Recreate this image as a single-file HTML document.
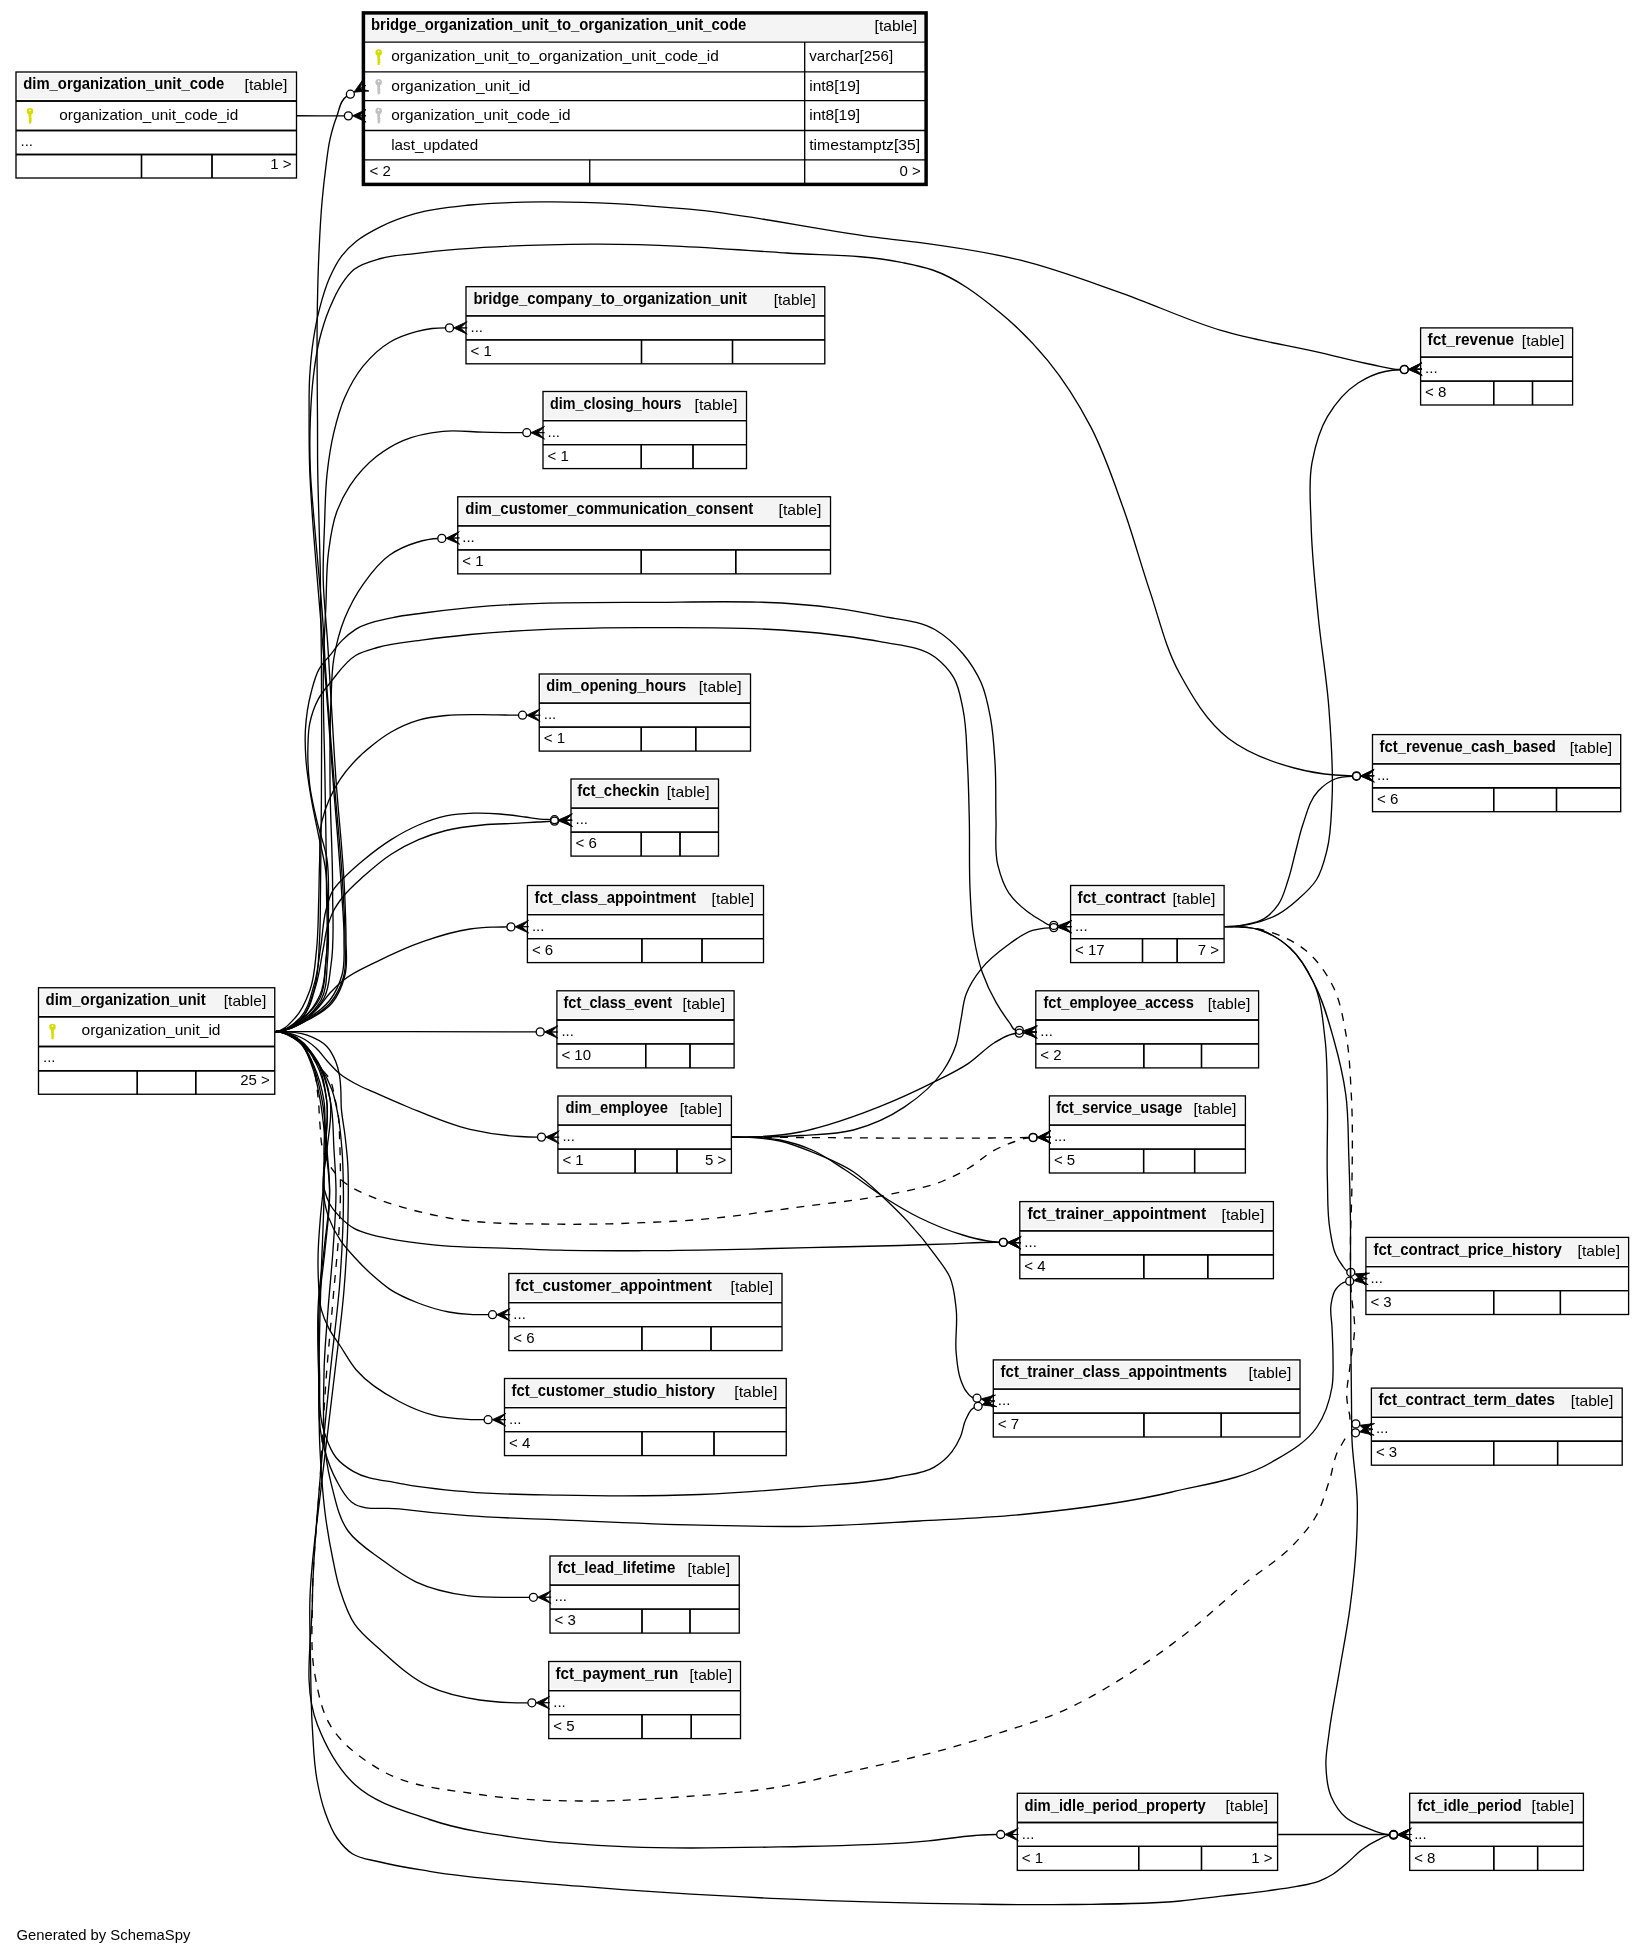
<!DOCTYPE html><html><head><meta charset="utf-8"><style>html,body{margin:0;padding:0;background:#fff;}svg{display:block;will-change:transform;}</style></head><body><svg xmlns="http://www.w3.org/2000/svg" width="1644" height="1955" viewBox="0 0 1644 1955" font-family='"Liberation Sans", sans-serif'>
<rect width="1644" height="1955" fill="#fff"/>
<path d="M297.00,115.75 C312.78,115.79 328.57,115.91 344.35,115.86" fill="none" stroke="#000" stroke-width="1.33"/>
<path d="M275.25,1031.60 C284.36,1031.60 293.34,1026.22 300.00,1020.00 C308.06,1012.46 310.66,1000.52 314.00,990.00 C319.07,974.02 318.42,956.73 319.50,940.00 C320.58,923.36 320.23,906.67 320.50,890.00 C320.99,860.00 321.22,830.00 321.40,800.00 C321.68,753.33 321.76,706.67 321.40,660.00 C321.16,629.00 320.88,598.00 320.20,567.00 C319.84,550.66 319.32,534.33 318.90,518.00 C318.48,501.67 317.93,485.34 317.70,469.00 C317.47,452.67 317.59,436.33 317.50,420.00 C317.40,401.33 317.15,382.67 317.10,364.00 C317.06,351.67 317.00,339.33 317.10,327.00 C317.20,314.67 317.40,302.33 317.70,290.00 C318.00,277.86 318.36,265.73 318.90,253.60 C319.70,235.72 320.56,217.83 322.20,200.00 C323.20,189.11 324.37,178.24 325.80,167.40 C327.06,157.84 327.92,148.19 330.10,138.80 C331.79,131.52 333.79,124.27 336.50,117.30 C339.34,109.99 340.03,100.02 346.87,96.16" fill="none" stroke="#000" stroke-width="1.33"/>
<path d="M275.25,1031.60 C285.89,1031.60 295.78,1025.32 305.00,1020.00 C314.24,1014.67 323.50,1008.46 330.00,1000.00 C335.63,992.67 339.49,983.90 342.00,975.00 C345.18,963.75 343.85,951.68 344.00,940.00 C344.22,923.31 342.47,906.66 341.50,890.00 C339.35,853.29 335.79,816.67 333.00,780.00 C329.95,740.00 327.17,699.99 324.00,660.00 C321.54,628.99 318.76,598.01 316.30,567.00 C315.00,550.67 313.60,534.35 312.50,518.00 C311.40,501.68 310.27,485.35 309.70,469.00 C309.13,452.68 309.08,436.33 309.10,420.00 C309.12,405.43 308.82,390.84 309.70,376.30 C310.45,363.99 311.53,351.69 313.40,339.50 C314.98,329.19 316.88,318.90 319.50,308.80 C322.19,298.42 325.03,287.99 329.40,278.20 C332.83,270.52 336.46,262.77 341.60,256.10 C345.84,250.59 350.91,245.69 356.30,241.30 C363.71,235.27 372.34,230.85 380.90,226.60 C391.79,221.20 403.32,217.07 415.00,213.70 C432.83,208.56 451.55,206.99 470.00,205.00 C494.31,202.38 518.85,202.18 543.30,201.90 C592.02,201.34 640.78,204.72 689.30,209.20 C754.61,215.24 818.80,230.37 883.90,238.40 C895.99,239.89 908.12,241.09 920.20,242.70 C953.84,247.18 987.55,252.06 1020.50,260.20 C1054.63,268.63 1087.62,281.19 1120.80,292.80 C1154.47,304.58 1186.80,320.25 1221.00,330.40 C1253.85,340.15 1287.90,345.25 1321.30,352.90 C1338.01,356.73 1354.57,361.24 1371.40,364.50 C1381.00,366.36 1390.53,369.65 1400.30,369.47" fill="none" stroke="#000" stroke-width="1.33"/>
<path d="M275.25,1031.60 C285.78,1031.60 295.69,1025.91 305.00,1021.00 C314.49,1015.99 324.21,1010.32 331.00,1002.00 C336.89,994.78 340.91,985.95 343.50,977.00 C346.94,965.14 344.92,952.34 345.00,940.00 C345.10,923.32 343.88,906.66 343.00,890.00 C341.05,853.26 336.88,816.68 334.00,780.00 C330.86,740.01 327.47,700.04 325.00,660.00 C324.10,645.34 323.55,630.65 322.50,616.00 C321.33,599.65 319.63,583.33 318.20,567.00 C316.77,550.67 315.22,534.34 313.90,518.00 C312.58,501.68 310.90,485.37 310.30,469.00 C309.70,452.68 309.69,436.32 310.30,420.00 C310.85,405.41 311.63,390.80 313.40,376.30 C314.90,363.96 316.50,351.57 319.50,339.50 C322.09,329.06 325.28,318.73 329.40,308.80 C332.90,300.37 336.45,291.83 341.60,284.30 C345.21,279.03 348.94,273.63 353.90,269.60 C361.45,263.46 371.54,261.16 380.90,258.50 C391.95,255.36 403.61,255.07 415.00,253.60 C473.60,246.05 532.92,244.57 592.00,244.20 C656.93,243.79 721.81,248.64 786.60,253.00 C824.44,255.55 862.85,254.50 900.00,262.10 C910.95,264.34 922.04,266.33 932.60,270.00 C957.13,278.52 978.40,295.08 998.60,311.40 C1016.66,325.99 1033.08,342.74 1047.80,360.70 C1064.35,380.90 1078.33,403.29 1090.50,426.40 C1104.24,452.49 1113.43,480.76 1123.40,508.50 C1133.12,535.54 1140.46,563.39 1149.70,590.60 C1159.06,618.17 1165.27,647.24 1179.20,672.80 C1192.30,696.84 1206.83,721.76 1228.50,738.50 C1247.50,753.17 1271.01,761.79 1294.20,768.00 C1307.53,771.57 1321.25,773.86 1335.00,775.00 C1340.82,775.48 1346.66,775.80 1352.50,775.80" fill="none" stroke="#000" stroke-width="1.33"/>
<path d="M275.25,1031.60 C286.09,1031.60 296.34,1025.92 306.00,1021.00 C315.39,1016.22 325.24,1011.08 332.00,1003.00 C338.60,995.11 342.51,984.98 345.00,975.00 C347.83,963.68 345.95,951.67 346.00,940.00 C346.07,923.33 345.24,906.66 344.50,890.00 C342.86,853.26 338.57,816.69 336.00,780.00 C332.75,733.66 330.60,687.25 327.50,640.90 C326.12,620.26 323.59,599.68 323.20,579.00 C322.86,561.23 323.83,543.46 324.50,525.70 C325.17,507.99 325.17,490.21 327.20,472.60 C328.75,459.21 330.65,445.81 333.80,432.70 C336.62,420.96 339.66,409.16 344.50,398.10 C349.44,386.83 355.32,375.73 363.10,366.20 C370.65,356.95 379.44,348.31 389.70,342.20 C397.90,337.32 407.08,334.06 416.30,331.60 C421.45,330.22 426.70,329.10 432.00,328.50 C436.48,327.99 441.00,327.90 445.50,327.90" fill="none" stroke="#000" stroke-width="1.33"/>
<path d="M275.25,1031.60 C285.11,1031.60 294.35,1025.21 302.00,1019.00 C309.76,1012.70 315.86,1004.10 320.00,995.00 C324.90,984.23 324.64,971.76 326.00,960.00 C328.68,936.82 326.52,913.33 326.50,890.00 C326.47,853.33 325.48,816.67 325.00,780.00 C324.48,740.00 322.45,699.99 323.50,660.00 C323.98,641.82 325.06,623.66 325.90,605.50 C326.72,587.76 326.13,569.90 328.50,552.30 C330.30,538.89 331.84,525.20 336.50,512.50 C339.91,503.19 344.36,494.19 349.80,485.90 C357.04,474.87 366.06,464.79 376.40,456.60 C384.51,450.18 393.50,444.70 403.00,440.60 C415.54,435.19 429.32,432.70 442.90,431.30 C456.13,429.93 469.50,431.81 482.80,432.10 C490.20,432.26 497.60,432.50 505.00,432.60 C510.93,432.68 516.87,432.70 522.80,432.70" fill="none" stroke="#000" stroke-width="1.33"/>
<path d="M275.25,1031.60 C285.28,1031.60 294.73,1025.67 303.00,1020.00 C311.36,1014.27 319.14,1006.90 324.00,998.00 C329.39,988.13 329.31,976.12 331.00,965.00 C334.76,940.28 332.52,915.01 332.60,890.00 C332.71,853.32 330.10,816.68 330.00,780.00 C329.93,753.33 329.70,726.64 331.00,700.00 C331.67,686.22 331.53,672.31 333.80,658.70 C336.06,645.12 339.38,631.58 344.50,618.80 C349.36,606.67 355.56,594.97 363.10,584.30 C370.71,573.53 378.87,562.52 389.70,555.00 C397.75,549.41 406.92,545.33 416.30,542.50 C423.28,540.40 430.51,538.71 437.80,538.51" fill="none" stroke="#000" stroke-width="1.33"/>
<path d="M275.25,1031.60 C285.28,1031.60 294.90,1025.90 303.00,1020.00 C310.25,1014.72 316.65,1007.84 321.00,1000.00 C327.55,988.19 326.20,973.45 327.50,960.00 C329.42,940.09 328.33,919.98 327.50,900.00 C327.10,890.29 326.87,880.55 325.70,870.90 C324.18,858.45 320.75,846.30 318.30,834.00 C315.85,821.74 313.06,809.54 311.00,797.20 C308.96,784.99 306.89,772.75 306.00,760.40 C305.27,750.22 304.82,739.99 305.40,729.80 C306.11,717.41 307.83,705.00 311.00,693.00 C313.21,684.61 315.12,675.89 319.50,668.40 C322.80,662.75 327.70,658.20 331.80,653.10 C335.07,649.03 337.96,644.64 341.60,640.90 C345.93,636.45 350.75,632.41 356.00,629.10 C366.87,622.25 380.25,620.37 392.80,617.60 C402.90,615.37 413.25,614.40 423.50,613.00 C438.96,610.89 454.47,609.12 470.00,607.60 C526.62,602.07 583.71,602.53 640.60,602.40 C705.53,602.25 771.04,598.88 835.30,608.20 C850.26,610.37 865.19,612.84 880.00,615.90 C898.57,619.73 918.85,620.09 935.20,629.70 C945.73,635.89 954.99,644.39 962.90,653.70 C970.38,662.51 976.68,672.50 981.30,683.10 C986.12,694.16 988.25,706.25 990.50,718.10 C993.39,733.27 994.15,748.79 995.10,764.20 C996.23,782.57 995.45,801.01 996.00,819.40 C996.46,834.74 994.16,850.52 997.90,865.40 C1000.32,875.04 1003.33,884.88 1008.90,893.10 C1013.77,900.28 1020.44,906.19 1027.30,911.50 C1031.91,915.07 1036.92,918.13 1042.00,921.00 C1044.56,922.44 1046.88,924.88 1049.81,925.10" fill="none" stroke="#000" stroke-width="1.33"/>
<path d="M275.25,1031.60 C285.11,1031.60 294.20,1025.03 302.00,1019.00 C309.29,1013.36 315.75,1006.18 320.00,998.00 C325.91,986.62 324.57,972.74 326.00,960.00 C328.23,940.11 328.62,920.02 328.50,900.00 C328.42,886.19 329.02,872.25 326.90,858.60 C324.95,846.06 319.98,834.16 317.10,821.80 C314.26,809.61 311.23,797.42 309.70,785.00 C308.19,772.81 307.60,760.48 307.90,748.20 C308.10,739.98 308.05,731.65 309.70,723.60 C311.44,715.12 314.19,706.72 318.30,699.10 C321.91,692.41 327.00,686.60 331.80,680.70 C339.19,671.61 345.88,661.10 356.00,655.20 C362.55,651.38 370.13,649.64 377.40,647.50 C392.34,643.11 408.08,642.07 423.50,639.90 C438.95,637.73 454.47,636.05 470.00,634.50 C526.63,628.86 583.69,627.91 640.60,627.70 C705.55,627.46 770.88,626.72 835.30,635.00 C850.24,636.92 865.25,638.64 880.00,641.70 C898.72,645.58 920.02,645.67 935.20,657.30 C942.47,662.87 949.05,669.71 953.70,677.60 C959.22,686.97 960.62,698.27 962.90,708.90 C966.77,726.99 966.43,745.73 967.50,764.20 C968.56,782.58 968.86,801.00 969.30,819.40 C969.89,843.96 968.86,868.57 970.20,893.10 C970.96,907.09 971.29,921.17 973.50,935.00 C975.54,947.75 978.09,960.53 982.40,972.70 C986.06,983.05 990.74,993.08 996.20,1002.60 C1000.33,1009.79 1004.95,1016.73 1010.00,1023.30 C1011.72,1025.54 1012.51,1029.62 1015.32,1029.90" fill="none" stroke="#000" stroke-width="1.33"/>
<path d="M275.25,1031.60 C283.24,1031.60 289.47,1023.77 295.00,1018.00 C302.32,1010.35 306.40,999.96 310.00,990.00 C314.59,977.30 315.03,963.43 316.50,950.00 C318.31,933.42 318.16,916.67 318.70,900.00 C319.11,887.40 319.10,874.79 319.60,862.20 C320.14,848.59 318.85,834.67 321.90,821.40 C323.63,813.90 326.13,806.56 329.20,799.50 C332.24,792.51 335.89,785.75 340.10,779.40 C344.40,772.92 349.37,766.87 354.70,761.20 C360.32,755.21 366.55,749.79 373.00,744.70 C378.81,740.12 384.80,735.70 391.20,732.00 C399.82,727.02 409.04,722.89 418.60,720.10 C427.49,717.51 436.79,716.47 446.00,715.50 C458.10,714.22 470.33,714.58 482.50,714.60 C490.00,714.61 497.50,714.88 505.00,715.00 C509.50,715.07 514.00,715.20 518.50,715.20" fill="none" stroke="#000" stroke-width="1.33"/>
<path d="M275.25,1031.60 C284.66,1031.60 293.41,1024.72 300.00,1018.00 C308.37,1009.47 310.53,996.43 314.00,985.00 C317.93,972.05 318.89,958.37 321.00,945.00 C322.84,933.36 322.89,921.37 326.00,910.00 C327.80,903.42 329.33,896.57 332.80,890.70 C336.10,885.13 341.08,880.73 345.60,876.10 C351.32,870.24 357.58,864.92 363.90,859.70 C372.61,852.50 381.62,845.59 391.20,839.60 C399.97,834.11 409.08,829.05 418.60,825.00 C427.46,821.23 436.58,817.88 446.00,815.90 C454.98,814.02 464.23,813.50 473.40,813.20 C482.27,812.91 491.15,813.33 500.00,814.00 C508.37,814.64 516.68,815.86 525.00,817.00 C530.01,817.68 534.96,818.79 540.00,819.20 C543.49,819.48 547.00,819.48 550.50,819.58" fill="none" stroke="#000" stroke-width="1.33"/>
<path d="M275.25,1031.60 C284.81,1031.60 294.06,1025.57 301.00,1019.00 C309.99,1010.48 312.29,996.82 316.00,985.00 C319.56,973.65 320.67,961.67 323.00,950.00 C324.67,941.67 325.41,933.09 328.00,925.00 C329.64,919.87 331.46,914.75 334.00,910.00 C336.26,905.76 339.09,901.83 342.00,898.00 C348.25,889.79 356.24,883.02 363.90,876.10 C372.56,868.28 381.42,860.57 391.20,854.20 C399.87,848.55 409.08,843.65 418.60,839.60 C427.46,835.83 436.66,832.84 446.00,830.50 C457.93,827.51 470.26,826.22 482.50,825.00 C494.62,823.79 506.84,823.91 519.00,823.20 C525.34,822.83 531.66,822.33 538.00,822.00 C542.17,821.78 546.34,821.68 550.51,821.43" fill="none" stroke="#000" stroke-width="1.33"/>
<path d="M275.25,1031.60 C283.88,1031.60 292.51,1028.29 300.00,1024.00 C306.97,1020.01 312.53,1013.87 318.00,1008.00 C322.36,1003.31 325.66,997.71 330.00,993.00 C334.35,988.28 338.98,983.79 344.00,979.80 C353.95,971.89 366.03,967.08 377.40,961.40 C392.39,953.92 407.67,946.88 423.50,941.40 C438.66,936.15 454.11,931.20 470.00,929.00 C477.29,927.99 484.65,927.52 492.00,927.20 C496.96,926.99 501.93,927.01 506.90,926.95" fill="none" stroke="#000" stroke-width="1.33"/>
<path d="M275.25,1031.60 C362.23,1031.69 449.22,1031.37 536.20,1031.88" fill="none" stroke="#000" stroke-width="1.33"/>
<path d="M275.25,1031.60 C283.69,1031.60 292.34,1033.45 300.00,1037.00 C305.87,1039.72 311.20,1043.66 316.00,1048.00 C320.56,1052.12 323.82,1057.50 328.00,1062.00 C331.85,1066.14 335.59,1070.45 340.00,1074.00 C344.61,1077.71 349.82,1080.64 355.00,1083.50 C361.42,1087.05 368.31,1089.69 375.00,1092.70 C385.93,1097.62 396.90,1102.48 408.00,1107.00 C428.35,1115.29 448.61,1124.39 470.00,1129.40 C486.39,1133.24 503.20,1135.48 520.00,1136.50 C525.83,1136.85 531.66,1137.04 537.50,1137.08" fill="none" stroke="#000" stroke-width="1.33"/>
<path d="M275.25,1031.60 C283.96,1031.60 293.47,1034.23 300.00,1040.00 C305.70,1045.04 308.13,1052.96 311.00,1060.00 C316.12,1072.55 316.80,1086.53 318.30,1100.00 C319.22,1108.30 319.22,1116.68 320.00,1125.00 C320.78,1133.36 320.58,1141.96 323.00,1150.00 C324.68,1155.57 326.96,1161.04 330.00,1166.00 C333.09,1171.05 337.01,1175.62 341.30,1179.70 C350.57,1188.53 363.20,1193.15 375.00,1198.10 C384.00,1201.88 393.43,1204.56 402.80,1207.30 C417.91,1211.72 433.30,1215.23 448.80,1218.00 C485.34,1224.54 522.88,1223.71 560.00,1224.20 C587.57,1224.57 615.15,1223.81 642.70,1222.70 C661.81,1221.93 680.93,1221.04 700.00,1219.50 C734.26,1216.73 768.24,1211.18 802.30,1206.60 C832.16,1202.58 862.32,1200.12 891.80,1193.90 C909.02,1190.27 926.70,1187.64 943.00,1181.00 C951.79,1177.42 960.32,1173.12 968.50,1168.30 C977.47,1163.01 984.91,1155.30 994.10,1150.40 C1000.78,1146.84 1007.81,1143.86 1015.00,1141.50 C1019.62,1139.98 1024.24,1137.86 1029.10,1137.72" fill="none" stroke="#000" stroke-width="1.33" stroke-dasharray="8,8"/>
<path d="M275.25,1031.60 C283.96,1031.60 292.88,1034.98 300.00,1040.00 C306.98,1044.92 311.78,1052.58 316.00,1060.00 C322.81,1071.99 324.79,1086.33 326.60,1100.00 C328.79,1116.53 325.89,1133.33 325.50,1150.00 C325.18,1163.33 321.16,1177.09 324.50,1190.00 C325.73,1194.75 327.25,1199.49 329.60,1203.80 C332.41,1208.97 336.44,1213.44 340.60,1217.60 C344.79,1221.80 349.33,1225.79 354.50,1228.70 C360.16,1231.88 366.64,1233.36 372.90,1235.10 C378.52,1236.66 384.27,1237.69 390.00,1238.80 C404.34,1241.58 418.88,1243.25 433.40,1244.80 C462.13,1247.87 491.13,1247.55 520.00,1248.70 C533.33,1249.23 546.66,1249.84 560.00,1250.20 C587.56,1250.95 615.13,1250.80 642.70,1250.70 C670.30,1250.60 697.90,1250.12 725.50,1249.60 C753.07,1249.08 780.63,1248.25 808.20,1247.60 C838.80,1246.88 869.41,1246.42 900.00,1245.50 C916.67,1245.00 933.33,1244.34 950.00,1243.80 C966.43,1243.27 982.86,1241.92 999.30,1242.31" fill="none" stroke="#000" stroke-width="1.33"/>
<path d="M275.25,1031.60 C284.07,1031.60 292.75,1035.97 300.00,1041.00 C307.57,1046.26 313.21,1054.12 318.00,1062.00 C324.91,1073.37 328.28,1086.84 330.20,1100.00 C332.61,1116.53 328.37,1133.36 327.00,1150.00 C325.90,1163.35 322.06,1176.64 323.10,1190.00 C323.83,1199.36 325.53,1208.76 328.70,1217.60 C331.62,1225.72 335.75,1233.46 340.60,1240.60 C344.66,1246.57 349.65,1251.86 354.50,1257.20 C360.33,1263.62 366.42,1269.83 372.90,1275.60 C378.37,1280.47 383.89,1285.36 390.00,1289.40 C398.68,1295.14 408.39,1299.25 418.10,1303.00 C428.05,1306.85 438.31,1310.07 448.80,1312.00 C455.79,1313.28 462.90,1313.97 470.00,1314.40 C476.16,1314.78 482.33,1314.70 488.50,1314.70" fill="none" stroke="#000" stroke-width="1.33"/>
<path d="M275.25,1031.60 C284.07,1031.60 292.97,1035.67 300.00,1041.00 C307.23,1046.48 311.78,1054.97 316.00,1063.00 C321.97,1074.35 324.76,1087.30 326.60,1100.00 C328.99,1116.50 325.68,1133.34 325.00,1150.00 C324.46,1163.34 324.13,1176.69 323.10,1190.00 C322.39,1199.22 321.16,1208.39 320.40,1217.60 C319.39,1229.88 318.32,1242.18 318.10,1254.50 C317.93,1263.67 317.97,1272.85 318.50,1282.00 C319.03,1291.27 318.87,1300.74 321.30,1309.70 C323.03,1316.08 325.69,1322.22 328.70,1328.10 C332.03,1334.60 336.59,1340.39 340.60,1346.50 C345.77,1354.38 350.16,1362.85 356.30,1370.00 C367.86,1383.46 383.50,1393.24 399.20,1401.50 C410.04,1407.21 421.42,1412.19 433.30,1415.20 C444.40,1418.01 455.96,1418.80 467.40,1419.40 C472.96,1419.69 478.53,1419.70 484.10,1419.70" fill="none" stroke="#000" stroke-width="1.33"/>
<path d="M275.25,1031.60 C283.76,1031.60 292.58,1035.41 299.00,1041.00 C306.09,1047.16 308.60,1057.24 312.00,1066.00 C316.21,1076.86 317.94,1088.55 320.10,1100.00 C323.21,1116.49 324.29,1133.31 326.00,1150.00 C327.36,1163.32 329.29,1176.62 329.60,1190.00 C330.07,1210.05 326.89,1230.03 325.00,1250.00 C323.42,1266.69 320.57,1283.27 319.50,1300.00 C318.01,1323.29 318.55,1346.69 319.50,1370.00 C320.35,1390.78 317.65,1412.50 324.30,1432.20 C327.30,1441.09 330.20,1450.49 336.20,1457.70 C340.85,1463.30 346.98,1467.62 353.20,1471.40 C366.74,1479.62 383.68,1480.15 399.20,1483.30 C421.65,1487.86 444.58,1489.81 467.40,1491.80 C498.17,1494.48 529.12,1494.58 560.00,1495.20 C606.66,1496.14 653.37,1496.44 700.00,1494.50 C736.56,1492.98 773.07,1490.20 809.50,1486.80 C838.76,1484.07 868.39,1483.27 897.10,1477.00 C909.64,1474.26 923.34,1473.77 934.30,1467.10 C940.92,1463.07 947.02,1457.90 951.80,1451.80 C955.43,1447.17 958.24,1441.89 960.60,1436.50 C963.05,1430.91 963.15,1424.40 966.00,1419.00 C968.20,1414.83 969.83,1409.04 974.30,1407.56" fill="none" stroke="#000" stroke-width="1.33"/>
<path d="M275.25,1031.60 C283.89,1031.60 292.48,1036.32 299.00,1042.00 C305.98,1048.08 309.31,1057.50 313.00,1066.00 C317.67,1076.76 319.75,1088.49 322.00,1100.00 C325.22,1116.44 325.66,1133.30 327.00,1150.00 C328.07,1163.32 329.58,1176.64 329.60,1190.00 C329.64,1210.09 326.05,1230.02 324.00,1250.00 C322.29,1266.68 319.57,1283.27 318.50,1300.00 C317.01,1323.29 317.70,1346.68 318.50,1370.00 C319.41,1396.46 316.90,1423.78 324.30,1449.20 C327.37,1459.74 330.94,1470.27 336.20,1479.90 C340.49,1487.76 344.51,1496.39 351.50,1502.00 C364.02,1512.06 383.26,1506.80 399.20,1508.80 C421.87,1511.64 444.62,1513.94 467.40,1515.70 C498.21,1518.08 529.13,1518.59 560.00,1519.90 C606.66,1521.88 653.31,1524.16 700.00,1525.20 C736.49,1526.01 773.00,1527.00 809.50,1526.30 C846.04,1525.60 882.51,1523.04 919.00,1521.00 C953.35,1519.08 987.76,1517.86 1022.00,1514.50 C1072.32,1509.56 1122.81,1503.69 1172.00,1492.00 C1205.86,1483.95 1241.99,1479.63 1272.00,1462.00 C1288.39,1452.38 1306.37,1442.75 1317.00,1427.00 C1324.97,1415.20 1329.63,1401.04 1332.00,1387.00 C1333.67,1377.13 1333.00,1367.01 1333.00,1357.00 C1333.00,1346.99 1332.40,1337.00 1332.00,1327.00 C1331.70,1319.67 1329.88,1312.26 1331.00,1305.00 C1331.85,1299.48 1332.52,1293.37 1336.00,1289.00 C1338.51,1285.84 1341.76,1282.44 1345.75,1281.82" fill="none" stroke="#000" stroke-width="1.33"/>
<path d="M275.25,1031.60 C283.76,1031.60 291.98,1036.18 299.00,1041.00 C306.99,1046.49 312.98,1054.71 318.00,1063.00 C324.73,1074.11 327.46,1087.31 330.20,1100.00 C333.72,1116.34 332.97,1133.32 334.00,1150.00 C334.82,1163.32 335.87,1176.65 336.00,1190.00 C336.20,1210.02 334.33,1230.02 333.00,1250.00 C331.67,1270.02 329.48,1289.99 328.00,1310.00 C326.52,1329.99 324.52,1349.96 324.10,1370.00 C323.30,1407.83 321.52,1446.70 331.10,1483.30 C335.38,1499.63 338.28,1517.27 348.10,1531.00 C356.78,1543.14 370.20,1551.13 382.20,1560.00 C393.09,1568.05 404.04,1576.35 416.30,1582.10 C432.26,1589.58 449.94,1593.27 467.40,1595.70 C481.48,1597.66 495.79,1597.26 510.00,1597.40 C516.47,1597.46 522.93,1597.36 529.40,1597.32" fill="none" stroke="#000" stroke-width="1.33"/>
<path d="M275.25,1031.60 C284.20,1031.60 293.24,1036.14 300.00,1042.00 C307.00,1048.07 310.23,1057.54 314.00,1066.00 C318.80,1076.77 321.85,1088.37 323.80,1100.00 C326.56,1116.44 323.95,1133.33 324.00,1150.00 C324.04,1163.33 324.22,1176.67 324.10,1190.00 C323.83,1220.02 321.85,1249.99 321.00,1280.00 C320.15,1310.00 319.12,1339.99 319.00,1370.00 C318.90,1396.67 318.63,1423.37 320.00,1450.00 C321.20,1473.39 322.71,1496.81 326.00,1520.00 C327.90,1533.40 330.24,1546.75 333.00,1560.00 C335.06,1569.89 336.85,1579.87 339.90,1589.50 C343.72,1601.56 347.63,1613.98 354.80,1624.40 C361.47,1634.09 371.06,1641.43 379.80,1649.30 C395.23,1663.19 410.77,1677.97 429.60,1686.70 C445.22,1693.94 462.48,1697.42 479.50,1700.00 C489.59,1701.53 499.80,1702.20 510.00,1702.60 C515.96,1702.83 521.93,1702.86 527.90,1702.82" fill="none" stroke="#000" stroke-width="1.33"/>
<path d="M275.25,1031.60 C284.64,1031.60 293.62,1037.20 301.00,1043.00 C308.28,1048.73 312.25,1057.73 318.00,1065.00 C322.03,1070.10 327.31,1074.38 330.20,1080.20 C333.03,1085.90 333.51,1092.49 334.90,1098.70 C336.27,1104.80 337.73,1110.90 338.50,1117.10 C339.25,1123.20 339.23,1129.36 339.50,1135.50 C340.04,1147.66 340.30,1159.83 340.40,1172.00 C340.49,1183.00 340.46,1194.00 340.20,1205.00 C339.44,1236.75 335.63,1268.35 333.00,1300.00 C331.06,1323.34 328.62,1346.65 326.80,1370.00 C323.94,1406.63 322.29,1443.33 320.00,1480.00 C317.50,1520.00 312.55,1559.92 312.40,1600.00 C312.31,1624.95 310.29,1650.28 314.90,1674.80 C318.11,1691.87 321.12,1709.71 329.90,1724.70 C341.21,1744.01 360.62,1758.08 379.80,1769.60 C409.16,1787.24 445.65,1789.26 479.50,1794.50 C512.44,1799.60 545.97,1800.59 579.30,1801.00 C612.56,1801.41 645.82,1799.32 679.00,1797.00 C712.35,1794.66 745.82,1792.51 778.80,1787.00 C802.75,1783.00 826.30,1776.90 850.00,1771.60 C880.46,1764.78 911.08,1758.50 941.20,1750.30 C961.64,1744.74 981.95,1738.63 1002.10,1732.10 C1022.53,1725.48 1043.27,1719.50 1062.90,1710.80 C1084.05,1701.42 1104.04,1689.50 1123.70,1677.30 C1144.72,1664.25 1164.89,1649.79 1184.50,1634.70 C1205.60,1618.46 1224.79,1599.87 1245.40,1583.00 C1261.22,1570.05 1279.41,1559.71 1293.40,1544.80 C1301.89,1535.74 1310.35,1526.34 1316.40,1515.50 C1322.23,1505.06 1325.06,1493.19 1329.00,1481.90 C1333.11,1470.13 1333.52,1456.64 1340.50,1446.30 C1343.64,1441.65 1346.10,1434.81 1351.59,1433.63" fill="none" stroke="#000" stroke-width="1.33" stroke-dasharray="8,8"/>
<path d="M275.25,1031.60 C285.08,1031.60 294.26,1037.95 302.00,1044.00 C309.46,1049.84 314.88,1058.03 320.00,1066.00 C324.84,1073.52 328.96,1081.59 332.00,1090.00 C334.92,1098.06 336.43,1106.57 338.00,1115.00 C340.15,1126.54 341.10,1138.29 342.00,1150.00 C343.02,1163.30 343.23,1176.66 343.40,1190.00 C343.78,1220.02 342.14,1250.06 340.00,1280.00 C337.85,1310.09 333.53,1339.99 330.50,1370.00 C326.80,1406.65 322.94,1443.28 320.00,1480.00 C316.80,1519.95 312.90,1559.92 312.40,1600.00 C311.88,1641.60 302.24,1685.96 317.40,1724.70 C325.97,1746.59 337.57,1768.51 354.80,1784.50 C374.98,1803.22 403.56,1810.58 429.60,1819.50 C461.69,1830.49 495.79,1834.82 529.40,1839.40 C562.42,1843.90 595.81,1845.40 629.10,1846.90 C678.95,1849.15 728.91,1847.90 778.80,1846.90 C828.70,1845.90 878.73,1845.75 928.40,1840.90 C943.96,1839.38 959.40,1836.56 975.00,1835.50 C982.22,1835.01 989.46,1834.50 996.70,1834.50" fill="none" stroke="#000" stroke-width="1.33"/>
<path d="M275.25,1031.60 C285.96,1031.60 297.14,1031.41 307.20,1035.10 C314.19,1037.67 321.44,1040.82 326.60,1046.20 C330.78,1050.56 333.55,1056.20 335.80,1061.80 C337.57,1066.22 338.66,1070.91 339.50,1075.60 C340.32,1080.18 340.50,1084.86 340.80,1089.50 C341.20,1095.62 340.87,1101.78 341.30,1107.90 C341.94,1117.16 343.93,1126.28 345.00,1135.50 C346.06,1144.68 347.11,1153.87 347.70,1163.10 C348.59,1177.04 348.32,1191.03 348.20,1205.00 C347.96,1233.37 346.29,1261.72 344.00,1290.00 C341.83,1316.74 338.15,1343.34 335.10,1370.00 C330.90,1406.69 326.05,1443.30 322.00,1480.00 C317.59,1519.96 310.97,1559.81 309.90,1600.00 C309.37,1619.99 310.14,1640.00 310.50,1660.00 C310.92,1683.00 310.94,1706.04 312.40,1729.00 C313.48,1746.03 313.87,1763.22 317.00,1780.00 C319.01,1790.81 321.28,1801.65 325.00,1812.00 C328.23,1820.98 331.43,1830.25 337.00,1838.00 C341.28,1843.95 346.17,1849.78 352.30,1853.80 C360.35,1859.08 370.67,1859.61 380.00,1862.00 C396.30,1866.17 413.00,1868.56 429.60,1871.30 C479.08,1879.47 529.33,1882.02 579.30,1886.20 C645.70,1891.76 712.24,1895.70 778.80,1898.70 C845.26,1901.70 911.78,1903.47 978.30,1904.20 C1009.53,1904.54 1040.77,1904.92 1072.00,1904.50 C1108.02,1904.02 1144.13,1904.30 1180.00,1901.00 C1194.64,1899.65 1209.20,1897.60 1223.80,1895.90 C1238.40,1894.20 1253.04,1892.79 1267.60,1890.80 C1277.35,1889.46 1287.14,1888.30 1296.80,1886.40 C1304.15,1884.95 1311.70,1883.98 1318.70,1881.30 C1323.78,1879.36 1328.70,1876.90 1333.30,1874.00 C1338.58,1870.67 1343.14,1866.33 1347.90,1862.30 C1352.89,1858.07 1357.22,1853.05 1362.50,1849.20 C1367.09,1845.85 1371.99,1842.89 1377.10,1840.40 C1381.14,1838.43 1385.11,1835.56 1389.60,1835.37" fill="none" stroke="#000" stroke-width="1.33"/>
<path d="M731.90,1137.20 C754.61,1137.20 777.35,1137.05 800.00,1135.50 C817.89,1134.28 836.18,1134.61 853.50,1130.00 C871.56,1125.19 889.10,1117.35 904.60,1106.90 C919.13,1097.10 933.26,1085.57 943.00,1071.00 C948.29,1063.09 952.76,1054.51 955.80,1045.50 C958.58,1037.25 959.20,1028.43 960.90,1019.90 C962.60,1011.40 962.98,1002.52 966.00,994.40 C969.47,985.08 975.06,976.54 981.30,968.80 C988.50,959.87 997.63,952.56 1006.90,945.80 C1014.95,939.93 1022.97,933.28 1032.50,930.40 C1038.08,928.71 1043.98,928.11 1049.81,927.81" fill="none" stroke="#000" stroke-width="1.33"/>
<path d="M731.90,1137.20 C754.67,1137.20 777.69,1136.53 800.00,1132.00 C809.41,1130.09 818.67,1127.47 827.90,1124.80 C845.24,1119.78 862.23,1113.57 879.00,1106.90 C896.38,1099.98 913.45,1092.23 930.20,1083.90 C943.17,1077.46 956.51,1071.52 968.50,1063.40 C977.54,1057.28 984.81,1048.73 994.10,1043.00 C998.58,1040.24 1003.04,1037.27 1008.00,1035.50 C1010.38,1034.65 1012.79,1033.66 1015.31,1033.48" fill="none" stroke="#000" stroke-width="1.33"/>
<path d="M731.90,1137.20 C830.97,1137.29 930.05,1139.24 1029.10,1137.47" fill="none" stroke="#000" stroke-width="1.33" stroke-dasharray="8,8"/>
<path d="M731.90,1137.20 C747.96,1137.20 764.27,1136.77 780.00,1140.00 C790.95,1142.25 801.76,1145.52 812.00,1150.00 C823.89,1155.20 834.47,1163.00 845.40,1170.00 C860.09,1179.41 873.47,1190.80 888.30,1200.00 C898.31,1206.21 908.44,1212.28 919.00,1217.50 C933.09,1224.47 947.72,1230.54 962.80,1235.00 C970.11,1237.16 977.48,1239.24 985.00,1240.50 C989.73,1241.29 994.50,1242.04 999.30,1242.18" fill="none" stroke="#000" stroke-width="1.33"/>
<path d="M731.90,1137.20 C747.98,1137.20 764.33,1137.38 780.00,1141.00 C790.99,1143.54 801.53,1147.81 812.00,1152.00 C826.32,1157.72 840.85,1163.49 853.70,1172.00 C865.60,1179.88 875.70,1190.22 886.10,1200.00 C893.62,1207.07 901.01,1214.30 908.00,1221.90 C918.19,1232.97 927.76,1244.66 936.50,1256.90 C941.08,1263.32 946.34,1269.42 949.60,1276.60 C954.23,1286.78 954.95,1298.39 956.20,1309.50 C957.83,1324.01 954.69,1338.78 956.20,1353.30 C957.12,1362.11 957.55,1371.18 960.60,1379.50 C962.06,1383.48 963.41,1387.65 966.00,1391.00 C967.96,1393.53 969.90,1396.97 973.06,1397.52" fill="none" stroke="#000" stroke-width="1.33"/>
<path d="M1224.60,926.70 C1232.84,926.70 1241.13,925.96 1249.20,924.30 C1259.30,922.22 1269.39,919.11 1278.40,914.10 C1285.50,910.15 1291.82,904.88 1297.90,899.50 C1304.59,893.58 1311.50,887.54 1316.30,880.00 C1322.01,871.05 1324.39,860.29 1327.00,850.00 C1331.09,833.86 1331.11,816.93 1332.00,800.30 C1333.63,769.63 1331.19,738.83 1328.90,708.20 C1326.60,677.41 1321.17,646.93 1318.20,616.20 C1315.24,585.55 1311.77,554.88 1311.10,524.10 C1310.65,503.64 1308.19,482.81 1312.00,462.70 C1315.01,446.81 1319.12,430.59 1327.40,416.70 C1335.18,403.65 1345.31,391.21 1358.10,383.00 C1366.31,377.73 1375.47,373.58 1385.00,371.50 C1390.02,370.40 1395.17,369.87 1400.30,369.72" fill="none" stroke="#000" stroke-width="1.33"/>
<path d="M1224.60,926.70 C1231.20,926.70 1237.83,926.07 1244.30,924.80 C1250.96,923.49 1257.97,922.38 1263.80,918.90 C1269.71,915.37 1274.48,909.95 1278.40,904.30 C1283.37,897.14 1285.32,888.27 1288.10,880.00 C1291.39,870.20 1293.33,859.99 1296.00,850.00 C1298.24,841.59 1299.97,833.03 1302.80,824.80 C1306.83,813.09 1309.62,799.93 1318.20,791.00 C1322.97,786.04 1328.57,781.45 1335.00,779.00 C1340.51,776.90 1346.61,776.60 1352.50,776.42" fill="none" stroke="#000" stroke-width="1.33"/>
<path d="M1224.60,926.70 C1236.45,926.70 1248.74,926.29 1260.00,930.00 C1271.08,933.65 1281.37,940.16 1290.00,948.00 C1300.23,957.28 1307.58,969.68 1313.40,982.20 C1321.69,1000.02 1322.75,1020.48 1325.10,1040.00 C1327.49,1059.87 1326.96,1079.99 1327.40,1100.00 C1327.98,1126.66 1326.55,1153.35 1327.40,1180.00 C1327.93,1196.68 1327.12,1213.56 1330.00,1230.00 C1331.48,1238.44 1332.31,1247.27 1336.00,1255.00 C1337.68,1258.51 1339.65,1261.90 1342.00,1265.00 C1343.55,1267.05 1344.71,1269.84 1347.09,1270.80" fill="none" stroke="#000" stroke-width="1.33"/>
<path d="M1224.60,926.70 C1237.38,926.70 1250.40,926.89 1262.80,930.00 C1278.24,933.88 1293.63,940.45 1305.90,950.60 C1317.71,960.37 1326.75,973.63 1333.50,987.40 C1340.49,1001.65 1342.86,1017.80 1345.80,1033.40 C1349.60,1053.56 1350.15,1074.22 1351.30,1094.70 C1353.02,1125.32 1352.27,1156.03 1351.90,1186.70 C1351.65,1207.17 1350.35,1227.63 1350.40,1248.10 C1350.44,1263.84 1350.40,1279.60 1351.50,1295.30 C1352.22,1305.56 1354.52,1315.71 1354.60,1326.00 C1354.70,1339.42 1351.34,1352.65 1350.00,1366.00 C1348.86,1377.32 1345.87,1388.68 1347.00,1400.00 C1347.47,1404.72 1348.37,1409.40 1349.50,1414.00 C1350.22,1416.91 1349.17,1421.68 1352.01,1422.63" fill="none" stroke="#000" stroke-width="1.33" stroke-dasharray="8,8"/>
<path d="M1224.60,926.70 C1236.45,926.70 1248.74,926.29 1260.00,930.00 C1271.08,933.65 1281.37,940.16 1290.00,948.00 C1300.23,957.28 1306.83,970.05 1313.40,982.20 C1323.12,1000.18 1328.36,1020.32 1333.90,1040.00 C1338.96,1057.96 1343.28,1076.21 1345.80,1094.70 C1348.56,1114.97 1348.03,1135.56 1348.80,1156.00 C1349.57,1176.46 1350.11,1196.93 1350.40,1217.40 C1350.69,1238.26 1350.42,1259.13 1350.50,1280.00 C1350.66,1320.93 1351.00,1361.87 1351.50,1402.80 C1351.65,1415.20 1351.51,1427.61 1352.00,1440.00 C1352.83,1461.02 1356.90,1481.86 1357.30,1502.90 C1357.57,1516.87 1357.06,1530.85 1356.30,1544.80 C1355.16,1565.84 1352.78,1586.81 1350.00,1607.70 C1347.19,1628.77 1343.00,1649.63 1339.50,1670.60 C1336.00,1691.57 1331.55,1712.40 1329.00,1733.50 C1327.73,1743.97 1325.56,1754.45 1325.90,1765.00 C1326.25,1775.60 1326.85,1786.68 1331.10,1796.40 C1334.52,1804.23 1339.26,1811.91 1345.80,1817.40 C1351.78,1822.42 1359.53,1824.93 1366.80,1827.80 C1374.18,1830.71 1381.67,1834.67 1389.60,1834.62" fill="none" stroke="#000" stroke-width="1.33"/>
<path d="M1278.10,1834.50 C1315.27,1834.50 1352.43,1834.50 1389.60,1834.50" fill="none" stroke="#000" stroke-width="1.33"/>
<rect x="466.00" y="286.70" width="358.80" height="77.10" fill="#fff"/>
<rect x="467.90" y="288.60" width="355.00" height="25.10" fill="#f4f4f4"/>
<text x="473.50" y="303.95" font-size="16" font-weight="bold" textLength="273.50" lengthAdjust="spacingAndGlyphs" fill="#000">bridge_company_to_organization_unit</text>
<text x="773.75" y="304.80" font-size="15.0" textLength="42.00" lengthAdjust="spacingAndGlyphs" fill="#000">[table]</text>
<text x="470.50" y="332.00" font-size="15.0" fill="#000">...</text>
<text x="470.50" y="355.90" font-size="15.0" fill="#000">&lt; 1</text>
<rect x="466.00" y="286.70" width="358.80" height="77.10" fill="none" stroke="#000" stroke-width="1.33"/>
<line x1="466.00" y1="315.90" x2="824.80" y2="315.90" stroke="#000" stroke-width="1.33"/>
<line x1="466.00" y1="339.85" x2="824.80" y2="339.85" stroke="#000" stroke-width="1.33"/>
<line x1="641.50" y1="339.85" x2="641.50" y2="363.80" stroke="#000" stroke-width="1.33"/>
<line x1="732.50" y1="339.85" x2="732.50" y2="363.80" stroke="#000" stroke-width="1.33"/>
<line x1="466.00" y1="315.90" x2="824.80" y2="315.90" stroke="#000" stroke-width="1.33"/>
<line x1="466.00" y1="339.85" x2="824.80" y2="339.85" stroke="#000" stroke-width="1.33"/>
<line x1="641.50" y1="339.85" x2="641.50" y2="363.80" stroke="#000" stroke-width="1.33"/>
<line x1="732.50" y1="339.85" x2="732.50" y2="363.80" stroke="#000" stroke-width="1.33"/>
<rect x="543.00" y="391.50" width="203.50" height="77.10" fill="#fff"/>
<rect x="544.90" y="393.40" width="199.70" height="25.10" fill="#f4f4f4"/>
<text x="550.00" y="408.75" font-size="16" font-weight="bold" textLength="131.50" lengthAdjust="spacingAndGlyphs" fill="#000">dim_closing_hours</text>
<text x="694.50" y="409.60" font-size="15.0" textLength="43.00" lengthAdjust="spacingAndGlyphs" fill="#000">[table]</text>
<text x="547.50" y="436.80" font-size="15.0" fill="#000">...</text>
<text x="547.50" y="460.70" font-size="15.0" fill="#000">&lt; 1</text>
<rect x="543.00" y="391.50" width="203.50" height="77.10" fill="none" stroke="#000" stroke-width="1.33"/>
<line x1="543.00" y1="420.70" x2="746.50" y2="420.70" stroke="#000" stroke-width="1.33"/>
<line x1="543.00" y1="444.65" x2="746.50" y2="444.65" stroke="#000" stroke-width="1.33"/>
<line x1="641.25" y1="444.65" x2="641.25" y2="468.60" stroke="#000" stroke-width="1.33"/>
<line x1="693.00" y1="444.65" x2="693.00" y2="468.60" stroke="#000" stroke-width="1.33"/>
<line x1="543.00" y1="420.70" x2="746.50" y2="420.70" stroke="#000" stroke-width="1.33"/>
<line x1="543.00" y1="444.65" x2="746.50" y2="444.65" stroke="#000" stroke-width="1.33"/>
<line x1="641.25" y1="444.65" x2="641.25" y2="468.60" stroke="#000" stroke-width="1.33"/>
<line x1="693.00" y1="444.65" x2="693.00" y2="468.60" stroke="#000" stroke-width="1.33"/>
<rect x="457.75" y="496.75" width="372.75" height="77.10" fill="#fff"/>
<rect x="459.65" y="498.65" width="368.95" height="25.10" fill="#f4f4f4"/>
<text x="465.25" y="514.00" font-size="16" font-weight="bold" textLength="288.00" lengthAdjust="spacingAndGlyphs" fill="#000">dim_customer_communication_consent</text>
<text x="778.50" y="514.85" font-size="15.0" textLength="43.00" lengthAdjust="spacingAndGlyphs" fill="#000">[table]</text>
<text x="462.25" y="542.05" font-size="15.0" fill="#000">...</text>
<text x="462.25" y="565.95" font-size="15.0" fill="#000">&lt; 1</text>
<rect x="457.75" y="496.75" width="372.75" height="77.10" fill="none" stroke="#000" stroke-width="1.33"/>
<line x1="457.75" y1="525.95" x2="830.50" y2="525.95" stroke="#000" stroke-width="1.33"/>
<line x1="457.75" y1="549.90" x2="830.50" y2="549.90" stroke="#000" stroke-width="1.33"/>
<line x1="641.25" y1="549.90" x2="641.25" y2="573.85" stroke="#000" stroke-width="1.33"/>
<line x1="735.75" y1="549.90" x2="735.75" y2="573.85" stroke="#000" stroke-width="1.33"/>
<line x1="457.75" y1="525.95" x2="830.50" y2="525.95" stroke="#000" stroke-width="1.33"/>
<line x1="457.75" y1="549.90" x2="830.50" y2="549.90" stroke="#000" stroke-width="1.33"/>
<line x1="641.25" y1="549.90" x2="641.25" y2="573.85" stroke="#000" stroke-width="1.33"/>
<line x1="735.75" y1="549.90" x2="735.75" y2="573.85" stroke="#000" stroke-width="1.33"/>
<rect x="539.25" y="674.00" width="211.25" height="77.10" fill="#fff"/>
<rect x="541.15" y="675.90" width="207.45" height="25.10" fill="#f4f4f4"/>
<text x="546.25" y="691.25" font-size="16" font-weight="bold" textLength="140.00" lengthAdjust="spacingAndGlyphs" fill="#000">dim_opening_hours</text>
<text x="698.75" y="692.10" font-size="15.0" textLength="42.75" lengthAdjust="spacingAndGlyphs" fill="#000">[table]</text>
<text x="543.75" y="719.30" font-size="15.0" fill="#000">...</text>
<text x="543.75" y="743.20" font-size="15.0" fill="#000">&lt; 1</text>
<rect x="539.25" y="674.00" width="211.25" height="77.10" fill="none" stroke="#000" stroke-width="1.33"/>
<line x1="539.25" y1="703.20" x2="750.50" y2="703.20" stroke="#000" stroke-width="1.33"/>
<line x1="539.25" y1="727.15" x2="750.50" y2="727.15" stroke="#000" stroke-width="1.33"/>
<line x1="641.25" y1="727.15" x2="641.25" y2="751.10" stroke="#000" stroke-width="1.33"/>
<line x1="695.75" y1="727.15" x2="695.75" y2="751.10" stroke="#000" stroke-width="1.33"/>
<line x1="539.25" y1="703.20" x2="750.50" y2="703.20" stroke="#000" stroke-width="1.33"/>
<line x1="539.25" y1="727.15" x2="750.50" y2="727.15" stroke="#000" stroke-width="1.33"/>
<line x1="641.25" y1="727.15" x2="641.25" y2="751.10" stroke="#000" stroke-width="1.33"/>
<line x1="695.75" y1="727.15" x2="695.75" y2="751.10" stroke="#000" stroke-width="1.33"/>
<rect x="571.00" y="779.00" width="147.50" height="77.10" fill="#fff"/>
<rect x="572.90" y="780.90" width="143.70" height="25.10" fill="#f4f4f4"/>
<text x="577.25" y="796.25" font-size="16" font-weight="bold" textLength="82.25" lengthAdjust="spacingAndGlyphs" fill="#000">fct_checkin</text>
<text x="666.75" y="797.10" font-size="15.0" textLength="42.75" lengthAdjust="spacingAndGlyphs" fill="#000">[table]</text>
<text x="575.50" y="824.30" font-size="15.0" fill="#000">...</text>
<text x="575.50" y="848.20" font-size="15.0" fill="#000">&lt; 6</text>
<rect x="571.00" y="779.00" width="147.50" height="77.10" fill="none" stroke="#000" stroke-width="1.33"/>
<line x1="571.00" y1="808.20" x2="718.50" y2="808.20" stroke="#000" stroke-width="1.33"/>
<line x1="571.00" y1="832.15" x2="718.50" y2="832.15" stroke="#000" stroke-width="1.33"/>
<line x1="641.25" y1="832.15" x2="641.25" y2="856.10" stroke="#000" stroke-width="1.33"/>
<line x1="680.00" y1="832.15" x2="680.00" y2="856.10" stroke="#000" stroke-width="1.33"/>
<line x1="571.00" y1="808.20" x2="718.50" y2="808.20" stroke="#000" stroke-width="1.33"/>
<line x1="571.00" y1="832.15" x2="718.50" y2="832.15" stroke="#000" stroke-width="1.33"/>
<line x1="641.25" y1="832.15" x2="641.25" y2="856.10" stroke="#000" stroke-width="1.33"/>
<line x1="680.00" y1="832.15" x2="680.00" y2="856.10" stroke="#000" stroke-width="1.33"/>
<rect x="527.40" y="885.50" width="236.10" height="77.10" fill="#fff"/>
<rect x="529.30" y="887.40" width="232.30" height="25.10" fill="#f4f4f4"/>
<text x="534.60" y="902.75" font-size="16" font-weight="bold" textLength="161.40" lengthAdjust="spacingAndGlyphs" fill="#000">fct_class_appointment</text>
<text x="711.60" y="903.60" font-size="15.0" textLength="42.60" lengthAdjust="spacingAndGlyphs" fill="#000">[table]</text>
<text x="531.90" y="930.80" font-size="15.0" fill="#000">...</text>
<text x="531.90" y="954.70" font-size="15.0" fill="#000">&lt; 6</text>
<rect x="527.40" y="885.50" width="236.10" height="77.10" fill="none" stroke="#000" stroke-width="1.33"/>
<line x1="527.40" y1="914.70" x2="763.50" y2="914.70" stroke="#000" stroke-width="1.33"/>
<line x1="527.40" y1="938.65" x2="763.50" y2="938.65" stroke="#000" stroke-width="1.33"/>
<line x1="641.90" y1="938.65" x2="641.90" y2="962.60" stroke="#000" stroke-width="1.33"/>
<line x1="702.00" y1="938.65" x2="702.00" y2="962.60" stroke="#000" stroke-width="1.33"/>
<line x1="527.40" y1="914.70" x2="763.50" y2="914.70" stroke="#000" stroke-width="1.33"/>
<line x1="527.40" y1="938.65" x2="763.50" y2="938.65" stroke="#000" stroke-width="1.33"/>
<line x1="641.90" y1="938.65" x2="641.90" y2="962.60" stroke="#000" stroke-width="1.33"/>
<line x1="702.00" y1="938.65" x2="702.00" y2="962.60" stroke="#000" stroke-width="1.33"/>
<rect x="556.90" y="990.80" width="177.20" height="77.10" fill="#fff"/>
<rect x="558.80" y="992.70" width="173.40" height="25.10" fill="#f4f4f4"/>
<text x="563.50" y="1008.05" font-size="16" font-weight="bold" textLength="108.50" lengthAdjust="spacingAndGlyphs" fill="#000">fct_class_event</text>
<text x="682.50" y="1008.90" font-size="15.0" textLength="42.50" lengthAdjust="spacingAndGlyphs" fill="#000">[table]</text>
<text x="561.40" y="1036.10" font-size="15.0" fill="#000">...</text>
<text x="561.40" y="1060.00" font-size="15.0" fill="#000">&lt; 10</text>
<rect x="556.90" y="990.80" width="177.20" height="77.10" fill="none" stroke="#000" stroke-width="1.33"/>
<line x1="556.90" y1="1020.00" x2="734.10" y2="1020.00" stroke="#000" stroke-width="1.33"/>
<line x1="556.90" y1="1043.95" x2="734.10" y2="1043.95" stroke="#000" stroke-width="1.33"/>
<line x1="645.70" y1="1043.95" x2="645.70" y2="1067.90" stroke="#000" stroke-width="1.33"/>
<line x1="690.00" y1="1043.95" x2="690.00" y2="1067.90" stroke="#000" stroke-width="1.33"/>
<line x1="556.90" y1="1020.00" x2="734.10" y2="1020.00" stroke="#000" stroke-width="1.33"/>
<line x1="556.90" y1="1043.95" x2="734.10" y2="1043.95" stroke="#000" stroke-width="1.33"/>
<line x1="645.70" y1="1043.95" x2="645.70" y2="1067.90" stroke="#000" stroke-width="1.33"/>
<line x1="690.00" y1="1043.95" x2="690.00" y2="1067.90" stroke="#000" stroke-width="1.33"/>
<rect x="557.90" y="1096.00" width="173.50" height="77.10" fill="#fff"/>
<rect x="559.80" y="1097.90" width="169.70" height="25.10" fill="#f4f4f4"/>
<text x="565.50" y="1113.25" font-size="16" font-weight="bold" textLength="102.50" lengthAdjust="spacingAndGlyphs" fill="#000">dim_employee</text>
<text x="679.70" y="1114.10" font-size="15.0" textLength="42.40" lengthAdjust="spacingAndGlyphs" fill="#000">[table]</text>
<text x="562.40" y="1141.30" font-size="15.0" fill="#000">...</text>
<text x="562.40" y="1165.20" font-size="15.0" fill="#000">&lt; 1</text>
<text x="726.40" y="1165.20" font-size="15.0" text-anchor="end" fill="#000">5 &gt;</text>
<rect x="557.90" y="1096.00" width="173.50" height="77.10" fill="none" stroke="#000" stroke-width="1.33"/>
<line x1="557.90" y1="1125.20" x2="731.40" y2="1125.20" stroke="#000" stroke-width="1.33"/>
<line x1="557.90" y1="1149.15" x2="731.40" y2="1149.15" stroke="#000" stroke-width="1.33"/>
<line x1="635.10" y1="1149.15" x2="635.10" y2="1173.10" stroke="#000" stroke-width="1.33"/>
<line x1="677.00" y1="1149.15" x2="677.00" y2="1173.10" stroke="#000" stroke-width="1.33"/>
<line x1="557.90" y1="1125.20" x2="731.40" y2="1125.20" stroke="#000" stroke-width="1.33"/>
<line x1="557.90" y1="1149.15" x2="731.40" y2="1149.15" stroke="#000" stroke-width="1.33"/>
<line x1="635.10" y1="1149.15" x2="635.10" y2="1173.10" stroke="#000" stroke-width="1.33"/>
<line x1="677.00" y1="1149.15" x2="677.00" y2="1173.10" stroke="#000" stroke-width="1.33"/>
<rect x="508.80" y="1273.50" width="273.20" height="77.10" fill="#fff"/>
<rect x="510.70" y="1275.40" width="269.40" height="25.10" fill="#f4f4f4"/>
<text x="515.30" y="1290.75" font-size="16" font-weight="bold" textLength="196.50" lengthAdjust="spacingAndGlyphs" fill="#000">fct_customer_appointment</text>
<text x="730.60" y="1291.60" font-size="15.0" textLength="42.60" lengthAdjust="spacingAndGlyphs" fill="#000">[table]</text>
<text x="513.30" y="1318.80" font-size="15.0" fill="#000">...</text>
<text x="513.30" y="1342.70" font-size="15.0" fill="#000">&lt; 6</text>
<rect x="508.80" y="1273.50" width="273.20" height="77.10" fill="none" stroke="#000" stroke-width="1.33"/>
<line x1="508.80" y1="1302.70" x2="782.00" y2="1302.70" stroke="#000" stroke-width="1.33"/>
<line x1="508.80" y1="1326.65" x2="782.00" y2="1326.65" stroke="#000" stroke-width="1.33"/>
<line x1="641.90" y1="1326.65" x2="641.90" y2="1350.60" stroke="#000" stroke-width="1.33"/>
<line x1="711.00" y1="1326.65" x2="711.00" y2="1350.60" stroke="#000" stroke-width="1.33"/>
<line x1="508.80" y1="1302.70" x2="782.00" y2="1302.70" stroke="#000" stroke-width="1.33"/>
<line x1="508.80" y1="1326.65" x2="782.00" y2="1326.65" stroke="#000" stroke-width="1.33"/>
<line x1="641.90" y1="1326.65" x2="641.90" y2="1350.60" stroke="#000" stroke-width="1.33"/>
<line x1="711.00" y1="1326.65" x2="711.00" y2="1350.60" stroke="#000" stroke-width="1.33"/>
<rect x="504.50" y="1378.50" width="281.75" height="77.10" fill="#fff"/>
<rect x="506.40" y="1380.40" width="277.95" height="25.10" fill="#f4f4f4"/>
<text x="511.50" y="1395.75" font-size="16" font-weight="bold" textLength="203.50" lengthAdjust="spacingAndGlyphs" fill="#000">fct_customer_studio_history</text>
<text x="734.25" y="1396.60" font-size="15.0" textLength="43.25" lengthAdjust="spacingAndGlyphs" fill="#000">[table]</text>
<text x="509.00" y="1423.80" font-size="15.0" fill="#000">...</text>
<text x="509.00" y="1447.70" font-size="15.0" fill="#000">&lt; 4</text>
<rect x="504.50" y="1378.50" width="281.75" height="77.10" fill="none" stroke="#000" stroke-width="1.33"/>
<line x1="504.50" y1="1407.70" x2="786.25" y2="1407.70" stroke="#000" stroke-width="1.33"/>
<line x1="504.50" y1="1431.65" x2="786.25" y2="1431.65" stroke="#000" stroke-width="1.33"/>
<line x1="642.00" y1="1431.65" x2="642.00" y2="1455.60" stroke="#000" stroke-width="1.33"/>
<line x1="714.00" y1="1431.65" x2="714.00" y2="1455.60" stroke="#000" stroke-width="1.33"/>
<line x1="504.50" y1="1407.70" x2="786.25" y2="1407.70" stroke="#000" stroke-width="1.33"/>
<line x1="504.50" y1="1431.65" x2="786.25" y2="1431.65" stroke="#000" stroke-width="1.33"/>
<line x1="642.00" y1="1431.65" x2="642.00" y2="1455.60" stroke="#000" stroke-width="1.33"/>
<line x1="714.00" y1="1431.65" x2="714.00" y2="1455.60" stroke="#000" stroke-width="1.33"/>
<rect x="550.00" y="1556.00" width="189.25" height="77.10" fill="#fff"/>
<rect x="551.90" y="1557.90" width="185.45" height="25.10" fill="#f4f4f4"/>
<text x="557.50" y="1573.25" font-size="16" font-weight="bold" textLength="117.75" lengthAdjust="spacingAndGlyphs" fill="#000">fct_lead_lifetime</text>
<text x="687.50" y="1574.10" font-size="15.0" textLength="42.50" lengthAdjust="spacingAndGlyphs" fill="#000">[table]</text>
<text x="554.50" y="1601.30" font-size="15.0" fill="#000">...</text>
<text x="554.50" y="1625.20" font-size="15.0" fill="#000">&lt; 3</text>
<rect x="550.00" y="1556.00" width="189.25" height="77.10" fill="none" stroke="#000" stroke-width="1.33"/>
<line x1="550.00" y1="1585.20" x2="739.25" y2="1585.20" stroke="#000" stroke-width="1.33"/>
<line x1="550.00" y1="1609.15" x2="739.25" y2="1609.15" stroke="#000" stroke-width="1.33"/>
<line x1="642.00" y1="1609.15" x2="642.00" y2="1633.10" stroke="#000" stroke-width="1.33"/>
<line x1="690.00" y1="1609.15" x2="690.00" y2="1633.10" stroke="#000" stroke-width="1.33"/>
<line x1="550.00" y1="1585.20" x2="739.25" y2="1585.20" stroke="#000" stroke-width="1.33"/>
<line x1="550.00" y1="1609.15" x2="739.25" y2="1609.15" stroke="#000" stroke-width="1.33"/>
<line x1="642.00" y1="1609.15" x2="642.00" y2="1633.10" stroke="#000" stroke-width="1.33"/>
<line x1="690.00" y1="1609.15" x2="690.00" y2="1633.10" stroke="#000" stroke-width="1.33"/>
<rect x="548.75" y="1661.50" width="191.75" height="77.10" fill="#fff"/>
<rect x="550.65" y="1663.40" width="187.95" height="25.10" fill="#f4f4f4"/>
<text x="555.50" y="1678.75" font-size="16" font-weight="bold" textLength="122.75" lengthAdjust="spacingAndGlyphs" fill="#000">fct_payment_run</text>
<text x="689.50" y="1679.60" font-size="15.0" textLength="42.50" lengthAdjust="spacingAndGlyphs" fill="#000">[table]</text>
<text x="553.25" y="1706.80" font-size="15.0" fill="#000">...</text>
<text x="553.25" y="1730.70" font-size="15.0" fill="#000">&lt; 5</text>
<rect x="548.75" y="1661.50" width="191.75" height="77.10" fill="none" stroke="#000" stroke-width="1.33"/>
<line x1="548.75" y1="1690.70" x2="740.50" y2="1690.70" stroke="#000" stroke-width="1.33"/>
<line x1="548.75" y1="1714.65" x2="740.50" y2="1714.65" stroke="#000" stroke-width="1.33"/>
<line x1="642.00" y1="1714.65" x2="642.00" y2="1738.60" stroke="#000" stroke-width="1.33"/>
<line x1="691.25" y1="1714.65" x2="691.25" y2="1738.60" stroke="#000" stroke-width="1.33"/>
<line x1="548.75" y1="1690.70" x2="740.50" y2="1690.70" stroke="#000" stroke-width="1.33"/>
<line x1="548.75" y1="1714.65" x2="740.50" y2="1714.65" stroke="#000" stroke-width="1.33"/>
<line x1="642.00" y1="1714.65" x2="642.00" y2="1738.60" stroke="#000" stroke-width="1.33"/>
<line x1="691.25" y1="1714.65" x2="691.25" y2="1738.60" stroke="#000" stroke-width="1.33"/>
<rect x="1420.60" y="327.90" width="152.00" height="77.10" fill="#fff"/>
<rect x="1422.50" y="329.80" width="148.20" height="25.10" fill="#f4f4f4"/>
<text x="1427.50" y="345.15" font-size="16" font-weight="bold" textLength="86.70" lengthAdjust="spacingAndGlyphs" fill="#000">fct_revenue</text>
<text x="1521.80" y="346.00" font-size="15.0" textLength="42.50" lengthAdjust="spacingAndGlyphs" fill="#000">[table]</text>
<text x="1425.10" y="373.20" font-size="15.0" fill="#000">...</text>
<text x="1425.10" y="397.10" font-size="15.0" fill="#000">&lt; 8</text>
<rect x="1420.60" y="327.90" width="152.00" height="77.10" fill="none" stroke="#000" stroke-width="1.33"/>
<line x1="1420.60" y1="357.10" x2="1572.60" y2="357.10" stroke="#000" stroke-width="1.33"/>
<line x1="1420.60" y1="381.05" x2="1572.60" y2="381.05" stroke="#000" stroke-width="1.33"/>
<line x1="1493.70" y1="381.05" x2="1493.70" y2="405.00" stroke="#000" stroke-width="1.33"/>
<line x1="1532.50" y1="381.05" x2="1532.50" y2="405.00" stroke="#000" stroke-width="1.33"/>
<line x1="1420.60" y1="357.10" x2="1572.60" y2="357.10" stroke="#000" stroke-width="1.33"/>
<line x1="1420.60" y1="381.05" x2="1572.60" y2="381.05" stroke="#000" stroke-width="1.33"/>
<line x1="1493.70" y1="381.05" x2="1493.70" y2="405.00" stroke="#000" stroke-width="1.33"/>
<line x1="1532.50" y1="381.05" x2="1532.50" y2="405.00" stroke="#000" stroke-width="1.33"/>
<rect x="1372.50" y="734.60" width="248.20" height="77.10" fill="#fff"/>
<rect x="1374.40" y="736.50" width="244.40" height="25.10" fill="#f4f4f4"/>
<text x="1379.60" y="751.85" font-size="16" font-weight="bold" textLength="176.20" lengthAdjust="spacingAndGlyphs" fill="#000">fct_revenue_cash_based</text>
<text x="1569.70" y="752.70" font-size="15.0" textLength="42.50" lengthAdjust="spacingAndGlyphs" fill="#000">[table]</text>
<text x="1377.00" y="779.90" font-size="15.0" fill="#000">...</text>
<text x="1377.00" y="803.80" font-size="15.0" fill="#000">&lt; 6</text>
<rect x="1372.50" y="734.60" width="248.20" height="77.10" fill="none" stroke="#000" stroke-width="1.33"/>
<line x1="1372.50" y1="763.80" x2="1620.70" y2="763.80" stroke="#000" stroke-width="1.33"/>
<line x1="1372.50" y1="787.75" x2="1620.70" y2="787.75" stroke="#000" stroke-width="1.33"/>
<line x1="1493.70" y1="787.75" x2="1493.70" y2="811.70" stroke="#000" stroke-width="1.33"/>
<line x1="1556.50" y1="787.75" x2="1556.50" y2="811.70" stroke="#000" stroke-width="1.33"/>
<line x1="1372.50" y1="763.80" x2="1620.70" y2="763.80" stroke="#000" stroke-width="1.33"/>
<line x1="1372.50" y1="787.75" x2="1620.70" y2="787.75" stroke="#000" stroke-width="1.33"/>
<line x1="1493.70" y1="787.75" x2="1493.70" y2="811.70" stroke="#000" stroke-width="1.33"/>
<line x1="1556.50" y1="787.75" x2="1556.50" y2="811.70" stroke="#000" stroke-width="1.33"/>
<rect x="1365.90" y="1237.40" width="262.70" height="77.10" fill="#fff"/>
<rect x="1367.80" y="1239.30" width="258.90" height="25.10" fill="#f4f4f4"/>
<text x="1373.50" y="1254.65" font-size="16" font-weight="bold" textLength="188.40" lengthAdjust="spacingAndGlyphs" fill="#000">fct_contract_price_history</text>
<text x="1577.60" y="1255.50" font-size="15.0" textLength="42.50" lengthAdjust="spacingAndGlyphs" fill="#000">[table]</text>
<text x="1370.40" y="1282.70" font-size="15.0" fill="#000">...</text>
<text x="1370.40" y="1306.60" font-size="15.0" fill="#000">&lt; 3</text>
<rect x="1365.90" y="1237.40" width="262.70" height="77.10" fill="none" stroke="#000" stroke-width="1.33"/>
<line x1="1365.90" y1="1266.60" x2="1628.60" y2="1266.60" stroke="#000" stroke-width="1.33"/>
<line x1="1365.90" y1="1290.55" x2="1628.60" y2="1290.55" stroke="#000" stroke-width="1.33"/>
<line x1="1493.70" y1="1290.55" x2="1493.70" y2="1314.50" stroke="#000" stroke-width="1.33"/>
<line x1="1560.40" y1="1290.55" x2="1560.40" y2="1314.50" stroke="#000" stroke-width="1.33"/>
<line x1="1365.90" y1="1266.60" x2="1628.60" y2="1266.60" stroke="#000" stroke-width="1.33"/>
<line x1="1365.90" y1="1290.55" x2="1628.60" y2="1290.55" stroke="#000" stroke-width="1.33"/>
<line x1="1493.70" y1="1290.55" x2="1493.70" y2="1314.50" stroke="#000" stroke-width="1.33"/>
<line x1="1560.40" y1="1290.55" x2="1560.40" y2="1314.50" stroke="#000" stroke-width="1.33"/>
<rect x="1371.40" y="1388.10" width="250.80" height="77.10" fill="#fff"/>
<rect x="1373.30" y="1390.00" width="247.00" height="25.10" fill="#f4f4f4"/>
<text x="1378.50" y="1405.35" font-size="16" font-weight="bold" textLength="176.40" lengthAdjust="spacingAndGlyphs" fill="#000">fct_contract_term_dates</text>
<text x="1570.80" y="1406.20" font-size="15.0" textLength="42.50" lengthAdjust="spacingAndGlyphs" fill="#000">[table]</text>
<text x="1375.90" y="1433.40" font-size="15.0" fill="#000">...</text>
<text x="1375.90" y="1457.30" font-size="15.0" fill="#000">&lt; 3</text>
<rect x="1371.40" y="1388.10" width="250.80" height="77.10" fill="none" stroke="#000" stroke-width="1.33"/>
<line x1="1371.40" y1="1417.30" x2="1622.20" y2="1417.30" stroke="#000" stroke-width="1.33"/>
<line x1="1371.40" y1="1441.25" x2="1622.20" y2="1441.25" stroke="#000" stroke-width="1.33"/>
<line x1="1493.70" y1="1441.25" x2="1493.70" y2="1465.20" stroke="#000" stroke-width="1.33"/>
<line x1="1557.60" y1="1441.25" x2="1557.60" y2="1465.20" stroke="#000" stroke-width="1.33"/>
<line x1="1371.40" y1="1417.30" x2="1622.20" y2="1417.30" stroke="#000" stroke-width="1.33"/>
<line x1="1371.40" y1="1441.25" x2="1622.20" y2="1441.25" stroke="#000" stroke-width="1.33"/>
<line x1="1493.70" y1="1441.25" x2="1493.70" y2="1465.20" stroke="#000" stroke-width="1.33"/>
<line x1="1557.60" y1="1441.25" x2="1557.60" y2="1465.20" stroke="#000" stroke-width="1.33"/>
<rect x="1017.30" y="1793.30" width="260.30" height="77.10" fill="#fff"/>
<rect x="1019.20" y="1795.20" width="256.50" height="25.10" fill="#f4f4f4"/>
<text x="1024.50" y="1810.55" font-size="16" font-weight="bold" textLength="181.30" lengthAdjust="spacingAndGlyphs" fill="#000">dim_idle_period_property</text>
<text x="1225.50" y="1811.40" font-size="15.0" textLength="42.70" lengthAdjust="spacingAndGlyphs" fill="#000">[table]</text>
<text x="1021.80" y="1838.60" font-size="15.0" fill="#000">...</text>
<text x="1021.80" y="1862.50" font-size="15.0" fill="#000">&lt; 1</text>
<text x="1272.60" y="1862.50" font-size="15.0" text-anchor="end" fill="#000">1 &gt;</text>
<rect x="1017.30" y="1793.30" width="260.30" height="77.10" fill="none" stroke="#000" stroke-width="1.33"/>
<line x1="1017.30" y1="1822.50" x2="1277.60" y2="1822.50" stroke="#000" stroke-width="1.33"/>
<line x1="1017.30" y1="1846.45" x2="1277.60" y2="1846.45" stroke="#000" stroke-width="1.33"/>
<line x1="1138.70" y1="1846.45" x2="1138.70" y2="1870.40" stroke="#000" stroke-width="1.33"/>
<line x1="1201.50" y1="1846.45" x2="1201.50" y2="1870.40" stroke="#000" stroke-width="1.33"/>
<line x1="1017.30" y1="1822.50" x2="1277.60" y2="1822.50" stroke="#000" stroke-width="1.33"/>
<line x1="1017.30" y1="1846.45" x2="1277.60" y2="1846.45" stroke="#000" stroke-width="1.33"/>
<line x1="1138.70" y1="1846.45" x2="1138.70" y2="1870.40" stroke="#000" stroke-width="1.33"/>
<line x1="1201.50" y1="1846.45" x2="1201.50" y2="1870.40" stroke="#000" stroke-width="1.33"/>
<rect x="1409.70" y="1793.30" width="173.70" height="77.10" fill="#fff"/>
<rect x="1411.60" y="1795.20" width="169.90" height="25.10" fill="#f4f4f4"/>
<text x="1417.60" y="1810.55" font-size="16" font-weight="bold" textLength="104.00" lengthAdjust="spacingAndGlyphs" fill="#000">fct_idle_period</text>
<text x="1531.60" y="1811.40" font-size="15.0" textLength="42.50" lengthAdjust="spacingAndGlyphs" fill="#000">[table]</text>
<text x="1414.20" y="1838.60" font-size="15.0" fill="#000">...</text>
<text x="1414.20" y="1862.50" font-size="15.0" fill="#000">&lt; 8</text>
<rect x="1409.70" y="1793.30" width="173.70" height="77.10" fill="none" stroke="#000" stroke-width="1.33"/>
<line x1="1409.70" y1="1822.50" x2="1583.40" y2="1822.50" stroke="#000" stroke-width="1.33"/>
<line x1="1409.70" y1="1846.45" x2="1583.40" y2="1846.45" stroke="#000" stroke-width="1.33"/>
<line x1="1493.80" y1="1846.45" x2="1493.80" y2="1870.40" stroke="#000" stroke-width="1.33"/>
<line x1="1537.60" y1="1846.45" x2="1537.60" y2="1870.40" stroke="#000" stroke-width="1.33"/>
<line x1="1409.70" y1="1822.50" x2="1583.40" y2="1822.50" stroke="#000" stroke-width="1.33"/>
<line x1="1409.70" y1="1846.45" x2="1583.40" y2="1846.45" stroke="#000" stroke-width="1.33"/>
<line x1="1493.80" y1="1846.45" x2="1493.80" y2="1870.40" stroke="#000" stroke-width="1.33"/>
<line x1="1537.60" y1="1846.45" x2="1537.60" y2="1870.40" stroke="#000" stroke-width="1.33"/>
<rect x="1070.60" y="885.50" width="153.50" height="77.10" fill="#fff"/>
<rect x="1072.50" y="887.40" width="149.70" height="25.10" fill="#f4f4f4"/>
<text x="1077.60" y="902.75" font-size="16" font-weight="bold" textLength="88.10" lengthAdjust="spacingAndGlyphs" fill="#000">fct_contract</text>
<text x="1172.40" y="903.60" font-size="15.0" textLength="42.90" lengthAdjust="spacingAndGlyphs" fill="#000">[table]</text>
<text x="1075.10" y="930.80" font-size="15.0" fill="#000">...</text>
<text x="1075.10" y="954.70" font-size="15.0" fill="#000">&lt; 17</text>
<text x="1219.10" y="954.70" font-size="15.0" text-anchor="end" fill="#000">7 &gt;</text>
<rect x="1070.60" y="885.50" width="153.50" height="77.10" fill="none" stroke="#000" stroke-width="1.33"/>
<line x1="1070.60" y1="914.70" x2="1224.10" y2="914.70" stroke="#000" stroke-width="1.33"/>
<line x1="1070.60" y1="938.65" x2="1224.10" y2="938.65" stroke="#000" stroke-width="1.33"/>
<line x1="1142.50" y1="938.65" x2="1142.50" y2="962.60" stroke="#000" stroke-width="1.33"/>
<line x1="1177.20" y1="938.65" x2="1177.20" y2="962.60" stroke="#000" stroke-width="1.33"/>
<line x1="1070.60" y1="914.70" x2="1224.10" y2="914.70" stroke="#000" stroke-width="1.33"/>
<line x1="1070.60" y1="938.65" x2="1224.10" y2="938.65" stroke="#000" stroke-width="1.33"/>
<line x1="1142.50" y1="938.65" x2="1142.50" y2="962.60" stroke="#000" stroke-width="1.33"/>
<line x1="1177.20" y1="938.65" x2="1177.20" y2="962.60" stroke="#000" stroke-width="1.33"/>
<rect x="1035.80" y="990.80" width="222.80" height="77.10" fill="#fff"/>
<rect x="1037.70" y="992.70" width="219.00" height="25.10" fill="#f4f4f4"/>
<text x="1043.40" y="1008.05" font-size="16" font-weight="bold" textLength="150.40" lengthAdjust="spacingAndGlyphs" fill="#000">fct_employee_access</text>
<text x="1207.70" y="1008.90" font-size="15.0" textLength="42.70" lengthAdjust="spacingAndGlyphs" fill="#000">[table]</text>
<text x="1040.30" y="1036.10" font-size="15.0" fill="#000">...</text>
<text x="1040.30" y="1060.00" font-size="15.0" fill="#000">&lt; 2</text>
<rect x="1035.80" y="990.80" width="222.80" height="77.10" fill="none" stroke="#000" stroke-width="1.33"/>
<line x1="1035.80" y1="1020.00" x2="1258.60" y2="1020.00" stroke="#000" stroke-width="1.33"/>
<line x1="1035.80" y1="1043.95" x2="1258.60" y2="1043.95" stroke="#000" stroke-width="1.33"/>
<line x1="1143.80" y1="1043.95" x2="1143.80" y2="1067.90" stroke="#000" stroke-width="1.33"/>
<line x1="1201.50" y1="1043.95" x2="1201.50" y2="1067.90" stroke="#000" stroke-width="1.33"/>
<line x1="1035.80" y1="1020.00" x2="1258.60" y2="1020.00" stroke="#000" stroke-width="1.33"/>
<line x1="1035.80" y1="1043.95" x2="1258.60" y2="1043.95" stroke="#000" stroke-width="1.33"/>
<line x1="1143.80" y1="1043.95" x2="1143.80" y2="1067.90" stroke="#000" stroke-width="1.33"/>
<line x1="1201.50" y1="1043.95" x2="1201.50" y2="1067.90" stroke="#000" stroke-width="1.33"/>
<rect x="1049.40" y="1095.90" width="196.00" height="77.10" fill="#fff"/>
<rect x="1051.30" y="1097.80" width="192.20" height="25.10" fill="#f4f4f4"/>
<text x="1056.20" y="1113.15" font-size="16" font-weight="bold" textLength="126.10" lengthAdjust="spacingAndGlyphs" fill="#000">fct_service_usage</text>
<text x="1193.40" y="1114.00" font-size="15.0" textLength="43.00" lengthAdjust="spacingAndGlyphs" fill="#000">[table]</text>
<text x="1053.90" y="1141.20" font-size="15.0" fill="#000">...</text>
<text x="1053.90" y="1165.10" font-size="15.0" fill="#000">&lt; 5</text>
<rect x="1049.40" y="1095.90" width="196.00" height="77.10" fill="none" stroke="#000" stroke-width="1.33"/>
<line x1="1049.40" y1="1125.10" x2="1245.40" y2="1125.10" stroke="#000" stroke-width="1.33"/>
<line x1="1049.40" y1="1149.05" x2="1245.40" y2="1149.05" stroke="#000" stroke-width="1.33"/>
<line x1="1143.60" y1="1149.05" x2="1143.60" y2="1173.00" stroke="#000" stroke-width="1.33"/>
<line x1="1194.60" y1="1149.05" x2="1194.60" y2="1173.00" stroke="#000" stroke-width="1.33"/>
<line x1="1049.40" y1="1125.10" x2="1245.40" y2="1125.10" stroke="#000" stroke-width="1.33"/>
<line x1="1049.40" y1="1149.05" x2="1245.40" y2="1149.05" stroke="#000" stroke-width="1.33"/>
<line x1="1143.60" y1="1149.05" x2="1143.60" y2="1173.00" stroke="#000" stroke-width="1.33"/>
<line x1="1194.60" y1="1149.05" x2="1194.60" y2="1173.00" stroke="#000" stroke-width="1.33"/>
<rect x="1019.80" y="1201.60" width="253.60" height="77.10" fill="#fff"/>
<rect x="1021.70" y="1203.50" width="249.80" height="25.10" fill="#f4f4f4"/>
<text x="1027.40" y="1218.85" font-size="16" font-weight="bold" textLength="178.70" lengthAdjust="spacingAndGlyphs" fill="#000">fct_trainer_appointment</text>
<text x="1221.60" y="1219.70" font-size="15.0" textLength="42.90" lengthAdjust="spacingAndGlyphs" fill="#000">[table]</text>
<text x="1024.30" y="1246.90" font-size="15.0" fill="#000">...</text>
<text x="1024.30" y="1270.80" font-size="15.0" fill="#000">&lt; 4</text>
<rect x="1019.80" y="1201.60" width="253.60" height="77.10" fill="none" stroke="#000" stroke-width="1.33"/>
<line x1="1019.80" y1="1230.80" x2="1273.40" y2="1230.80" stroke="#000" stroke-width="1.33"/>
<line x1="1019.80" y1="1254.75" x2="1273.40" y2="1254.75" stroke="#000" stroke-width="1.33"/>
<line x1="1143.80" y1="1254.75" x2="1143.80" y2="1278.70" stroke="#000" stroke-width="1.33"/>
<line x1="1207.80" y1="1254.75" x2="1207.80" y2="1278.70" stroke="#000" stroke-width="1.33"/>
<line x1="1019.80" y1="1230.80" x2="1273.40" y2="1230.80" stroke="#000" stroke-width="1.33"/>
<line x1="1019.80" y1="1254.75" x2="1273.40" y2="1254.75" stroke="#000" stroke-width="1.33"/>
<line x1="1143.80" y1="1254.75" x2="1143.80" y2="1278.70" stroke="#000" stroke-width="1.33"/>
<line x1="1207.80" y1="1254.75" x2="1207.80" y2="1278.70" stroke="#000" stroke-width="1.33"/>
<rect x="993.30" y="1359.90" width="306.70" height="77.10" fill="#fff"/>
<rect x="995.20" y="1361.80" width="302.90" height="25.10" fill="#f4f4f4"/>
<text x="1000.50" y="1377.15" font-size="16" font-weight="bold" textLength="226.60" lengthAdjust="spacingAndGlyphs" fill="#000">fct_trainer_class_appointments</text>
<text x="1248.60" y="1378.00" font-size="15.0" textLength="42.70" lengthAdjust="spacingAndGlyphs" fill="#000">[table]</text>
<text x="997.80" y="1405.20" font-size="15.0" fill="#000">...</text>
<text x="997.80" y="1429.10" font-size="15.0" fill="#000">&lt; 7</text>
<rect x="993.30" y="1359.90" width="306.70" height="77.10" fill="none" stroke="#000" stroke-width="1.33"/>
<line x1="993.30" y1="1389.10" x2="1300.00" y2="1389.10" stroke="#000" stroke-width="1.33"/>
<line x1="993.30" y1="1413.05" x2="1300.00" y2="1413.05" stroke="#000" stroke-width="1.33"/>
<line x1="1143.90" y1="1413.05" x2="1143.90" y2="1437.00" stroke="#000" stroke-width="1.33"/>
<line x1="1221.20" y1="1413.05" x2="1221.20" y2="1437.00" stroke="#000" stroke-width="1.33"/>
<line x1="993.30" y1="1389.10" x2="1300.00" y2="1389.10" stroke="#000" stroke-width="1.33"/>
<line x1="993.30" y1="1413.05" x2="1300.00" y2="1413.05" stroke="#000" stroke-width="1.33"/>
<line x1="1143.90" y1="1413.05" x2="1143.90" y2="1437.00" stroke="#000" stroke-width="1.33"/>
<line x1="1221.20" y1="1413.05" x2="1221.20" y2="1437.00" stroke="#000" stroke-width="1.33"/>
<rect x="16.00" y="72.00" width="280.50" height="106.00" fill="#fff"/>
<rect x="17.90" y="73.90" width="276.70" height="24.90" fill="#f4f4f4"/>
<text x="23.25" y="89.25" font-size="16" font-weight="bold" textLength="201.00" lengthAdjust="spacingAndGlyphs" fill="#000">dim_organization_unit_code</text>
<text x="244.50" y="90.10" font-size="15.0" textLength="43.00" lengthAdjust="spacingAndGlyphs" fill="#000">[table]</text>
<g fill="#d6db00" stroke="none"><circle cx="30.00" cy="111.30" r="3.25"/><path d="M28.50,113.60 L31.50,113.60 L31.15,123.20 Q30.00,124.20 29.00,123.20 Z"/><rect x="30.90" y="118.30" width="1.1" height="0.9"/><rect x="30.90" y="120.60" width="1.1" height="0.9"/></g><circle cx="30.00" cy="110.40" r="0.85" fill="#fff"/>
<text x="59.25" y="119.70" font-size="15.0" textLength="179.00" lengthAdjust="spacingAndGlyphs" fill="#000">organization_unit_code_id</text>
<text x="20.50" y="145.70" font-size="15.0" fill="#000">...</text>
<text x="291.50" y="169.10" font-size="15.0" text-anchor="end" fill="#000">1 &gt;</text>
<rect x="16.00" y="72.00" width="280.50" height="106.00" fill="none" stroke="#000" stroke-width="1.33"/>
<line x1="16.00" y1="101.00" x2="296.50" y2="101.00" stroke="#000" stroke-width="1.33"/>
<line x1="16.00" y1="130.50" x2="296.50" y2="130.50" stroke="#000" stroke-width="1.33"/>
<line x1="16.00" y1="154.50" x2="296.50" y2="154.50" stroke="#000" stroke-width="1.33"/>
<line x1="141.50" y1="154.50" x2="141.50" y2="178.00" stroke="#000" stroke-width="1.33"/>
<line x1="212.00" y1="154.50" x2="212.00" y2="178.00" stroke="#000" stroke-width="1.33"/>
<line x1="16.00" y1="101.00" x2="296.50" y2="101.00" stroke="#000" stroke-width="1.33"/>
<line x1="16.00" y1="130.50" x2="296.50" y2="130.50" stroke="#000" stroke-width="1.33"/>
<line x1="16.00" y1="154.50" x2="296.50" y2="154.50" stroke="#000" stroke-width="1.33"/>
<line x1="141.50" y1="154.50" x2="141.50" y2="178.00" stroke="#000" stroke-width="1.33"/>
<line x1="212.00" y1="154.50" x2="212.00" y2="178.00" stroke="#000" stroke-width="1.33"/>
<rect x="38.50" y="987.75" width="236.25" height="106.50" fill="#fff"/>
<rect x="40.40" y="989.65" width="232.45" height="24.90" fill="#f4f4f4"/>
<text x="45.50" y="1005.00" font-size="16" font-weight="bold" textLength="160.25" lengthAdjust="spacingAndGlyphs" fill="#000">dim_organization_unit</text>
<text x="223.75" y="1005.85" font-size="15.0" textLength="42.50" lengthAdjust="spacingAndGlyphs" fill="#000">[table]</text>
<g fill="#d6db00" stroke="none"><circle cx="52.50" cy="1027.05" r="3.25"/><path d="M51.00,1029.35 L54.00,1029.35 L53.65,1038.95 Q52.50,1039.95 51.50,1038.95 Z"/><rect x="53.40" y="1034.05" width="1.1" height="0.9"/><rect x="53.40" y="1036.35" width="1.1" height="0.9"/></g><circle cx="52.50" cy="1026.15" r="0.85" fill="#fff"/>
<text x="81.50" y="1035.45" font-size="15.0" textLength="139.00" lengthAdjust="spacingAndGlyphs" fill="#000">organization_unit_id</text>
<text x="43.00" y="1061.70" font-size="15.0" fill="#000">...</text>
<text x="269.75" y="1085.35" font-size="15.0" text-anchor="end" fill="#000">25 &gt;</text>
<rect x="38.50" y="987.75" width="236.25" height="106.50" fill="none" stroke="#000" stroke-width="1.33"/>
<line x1="38.50" y1="1016.75" x2="274.75" y2="1016.75" stroke="#000" stroke-width="1.33"/>
<line x1="38.50" y1="1046.50" x2="274.75" y2="1046.50" stroke="#000" stroke-width="1.33"/>
<line x1="38.50" y1="1070.75" x2="274.75" y2="1070.75" stroke="#000" stroke-width="1.33"/>
<line x1="137.25" y1="1070.75" x2="137.25" y2="1094.25" stroke="#000" stroke-width="1.33"/>
<line x1="195.75" y1="1070.75" x2="195.75" y2="1094.25" stroke="#000" stroke-width="1.33"/>
<line x1="38.50" y1="1016.75" x2="274.75" y2="1016.75" stroke="#000" stroke-width="1.33"/>
<line x1="38.50" y1="1046.50" x2="274.75" y2="1046.50" stroke="#000" stroke-width="1.33"/>
<line x1="38.50" y1="1070.75" x2="274.75" y2="1070.75" stroke="#000" stroke-width="1.33"/>
<line x1="137.25" y1="1070.75" x2="137.25" y2="1094.25" stroke="#000" stroke-width="1.33"/>
<line x1="195.75" y1="1070.75" x2="195.75" y2="1094.25" stroke="#000" stroke-width="1.33"/>
<rect x="363.4" y="12.9" width="562.7" height="29.200000000000003" fill="#f4f4f4"/>
<rect x="363.4" y="42.1" width="562.7" height="142.3" fill="#fff"/>
<text x="371.00" y="29.80" font-size="16" font-weight="bold" textLength="375.25" lengthAdjust="spacingAndGlyphs" fill="#000">bridge_organization_unit_to_organization_unit_code</text>
<text x="874.60" y="31.30" font-size="15.0" textLength="42.60" lengthAdjust="spacingAndGlyphs" fill="#000">[table]</text>
<g fill="#d6db00" stroke="none"><circle cx="378.67" cy="52.50" r="3.25"/><path d="M377.17,54.80 L380.17,54.80 L379.82,64.40 Q378.67,65.40 377.67,64.40 Z"/><rect x="379.57" y="59.50" width="1.1" height="0.9"/><rect x="379.57" y="61.80" width="1.1" height="0.9"/></g><circle cx="378.67" cy="51.60" r="0.85" fill="#fff"/>
<text x="391.25" y="61.10" font-size="15.0" textLength="327.50" lengthAdjust="spacingAndGlyphs" fill="#000">organization_unit_to_organization_unit_code_id</text>
<text x="809.20" y="61.10" font-size="15.0" textLength="83.90" lengthAdjust="spacingAndGlyphs" fill="#000">varchar[256]</text>
<g fill="#c0c0c0" stroke="none"><circle cx="378.67" cy="82.20" r="3.25"/><path d="M377.17,84.50 L380.17,84.50 L379.82,94.10 Q378.67,95.10 377.67,94.10 Z"/><rect x="379.57" y="89.20" width="1.1" height="0.9"/><rect x="379.57" y="91.50" width="1.1" height="0.9"/></g><circle cx="378.67" cy="81.30" r="0.85" fill="#fff"/>
<text x="391.25" y="90.80" font-size="15.0" textLength="139.25" lengthAdjust="spacingAndGlyphs" fill="#000">organization_unit_id</text>
<text x="809.20" y="90.80" font-size="15.0" textLength="50.90" lengthAdjust="spacingAndGlyphs" fill="#000">int8[19]</text>
<g fill="#c0c0c0" stroke="none"><circle cx="378.67" cy="111.10" r="3.25"/><path d="M377.17,113.40 L380.17,113.40 L379.82,123.00 Q378.67,124.00 377.67,123.00 Z"/><rect x="379.57" y="118.10" width="1.1" height="0.9"/><rect x="379.57" y="120.40" width="1.1" height="0.9"/></g><circle cx="378.67" cy="110.20" r="0.85" fill="#fff"/>
<text x="391.25" y="119.70" font-size="15.0" textLength="179.25" lengthAdjust="spacingAndGlyphs" fill="#000">organization_unit_code_id</text>
<text x="809.20" y="119.70" font-size="15.0" textLength="50.90" lengthAdjust="spacingAndGlyphs" fill="#000">int8[19]</text>
<text x="391.25" y="149.50" font-size="15.0" textLength="87.00" lengthAdjust="spacingAndGlyphs" fill="#000">last_updated</text>
<text x="809.20" y="149.50" font-size="15.0" textLength="111.00" lengthAdjust="spacingAndGlyphs" fill="#000">timestamptz[35]</text>
<text x="369.50" y="175.50" font-size="15.0" fill="#000">&lt; 2</text>
<text x="920.80" y="175.50" font-size="15.0" text-anchor="end" fill="#000">0 &gt;</text>
<line x1="363.40" y1="42.10" x2="926.10" y2="42.10" stroke="#000" stroke-width="1.33"/>
<line x1="363.40" y1="71.80" x2="926.10" y2="71.80" stroke="#000" stroke-width="1.33"/>
<line x1="363.40" y1="100.70" x2="926.10" y2="100.70" stroke="#000" stroke-width="1.33"/>
<line x1="363.40" y1="130.50" x2="926.10" y2="130.50" stroke="#000" stroke-width="1.33"/>
<line x1="363.40" y1="159.80" x2="926.10" y2="159.80" stroke="#000" stroke-width="1.33"/>
<line x1="804.70" y1="42.10" x2="804.70" y2="184.40" stroke="#000" stroke-width="1.33"/>
<line x1="589.75" y1="159.80" x2="589.75" y2="184.40" stroke="#000" stroke-width="1.33"/>
<rect x="363.4" y="12.9" width="562.7" height="171.5" fill="none" stroke="#000" stroke-width="3.5"/>
<polygon points="352.55,115.84 366.03,109.50 359.30,115.82 366.05,115.80 359.30,115.82 366.07,122.10 352.55,115.84" fill="#000" stroke="#000" stroke-width="0.9" stroke-linejoin="miter"/>
<circle cx="348.35" cy="115.85" r="4" fill="none" stroke="#000" stroke-width="1.33"/>
<polygon points="354.01,92.14 362.67,80.02 359.89,88.82 365.77,85.51 359.89,88.82 368.86,90.99 354.01,92.14" fill="#000" stroke="#000" stroke-width="0.9" stroke-linejoin="miter"/>
<circle cx="350.35" cy="94.20" r="4" fill="none" stroke="#000" stroke-width="1.33"/>
<polygon points="1408.50,369.33 1421.88,362.78 1415.25,369.20 1422.00,369.08 1415.25,369.20 1422.11,375.38 1408.50,369.33" fill="#000" stroke="#000" stroke-width="0.9" stroke-linejoin="miter"/>
<circle cx="1404.30" cy="369.40" r="4" fill="none" stroke="#000" stroke-width="1.33"/>
<polygon points="1360.70,775.80 1374.20,769.50 1367.45,775.80 1374.20,775.80 1367.45,775.80 1374.20,782.10 1360.70,775.80" fill="#000" stroke="#000" stroke-width="0.9" stroke-linejoin="miter"/>
<circle cx="1356.50" cy="775.80" r="4" fill="none" stroke="#000" stroke-width="1.33"/>
<polygon points="453.70,327.90 467.20,321.60 460.45,327.90 467.20,327.90 460.45,327.90 467.20,334.20 453.70,327.90" fill="#000" stroke="#000" stroke-width="0.9" stroke-linejoin="miter"/>
<circle cx="449.50" cy="327.90" r="4" fill="none" stroke="#000" stroke-width="1.33"/>
<polygon points="531.00,432.70 544.50,426.40 537.75,432.70 544.50,432.70 537.75,432.70 544.50,439.00 531.00,432.70" fill="#000" stroke="#000" stroke-width="0.9" stroke-linejoin="miter"/>
<circle cx="526.80" cy="432.70" r="4" fill="none" stroke="#000" stroke-width="1.33"/>
<polygon points="446.00,538.29 459.32,531.62 452.75,538.10 459.49,537.92 452.75,538.10 459.67,544.21 446.00,538.29" fill="#000" stroke="#000" stroke-width="0.9" stroke-linejoin="miter"/>
<circle cx="441.80" cy="538.40" r="4" fill="none" stroke="#000" stroke-width="1.33"/>
<polygon points="1057.99,925.71 1071.92,920.44 1064.72,926.22 1071.45,926.73 1064.72,926.22 1070.98,933.01 1057.99,925.71" fill="#000" stroke="#000" stroke-width="0.9" stroke-linejoin="miter"/>
<circle cx="1053.80" cy="925.40" r="4" fill="none" stroke="#000" stroke-width="1.33"/>
<polygon points="1023.48,1030.72 1037.54,1025.79 1030.20,1031.39 1036.91,1032.06 1030.20,1031.39 1036.29,1038.33 1023.48,1030.72" fill="#000" stroke="#000" stroke-width="0.9" stroke-linejoin="miter"/>
<circle cx="1019.30" cy="1030.30" r="4" fill="none" stroke="#000" stroke-width="1.33"/>
<polygon points="526.70,715.20 540.20,708.90 533.45,715.20 540.20,715.20 533.45,715.20 540.20,721.50 526.70,715.20" fill="#000" stroke="#000" stroke-width="0.9" stroke-linejoin="miter"/>
<circle cx="522.50" cy="715.20" r="4" fill="none" stroke="#000" stroke-width="1.33"/>
<polygon points="558.70,819.82 572.38,813.92 565.45,820.02 572.19,820.22 565.45,820.02 572.01,826.52 558.70,819.82" fill="#000" stroke="#000" stroke-width="0.9" stroke-linejoin="miter"/>
<circle cx="554.50" cy="819.70" r="4" fill="none" stroke="#000" stroke-width="1.33"/>
<polygon points="558.69,820.95 571.80,813.87 565.43,820.56 572.17,820.16 565.43,820.56 572.54,826.45 558.69,820.95" fill="#000" stroke="#000" stroke-width="0.9" stroke-linejoin="miter"/>
<circle cx="554.50" cy="821.20" r="4" fill="none" stroke="#000" stroke-width="1.33"/>
<polygon points="515.10,926.85 528.52,920.39 521.85,926.77 528.60,926.69 521.85,926.77 528.67,932.99 515.10,926.85" fill="#000" stroke="#000" stroke-width="0.9" stroke-linejoin="miter"/>
<circle cx="510.90" cy="926.90" r="4" fill="none" stroke="#000" stroke-width="1.33"/>
<polygon points="544.40,1031.92 557.94,1025.70 551.15,1031.96 557.90,1032.00 551.15,1031.96 557.86,1038.30 544.40,1031.92" fill="#000" stroke="#000" stroke-width="0.9" stroke-linejoin="miter"/>
<circle cx="540.20" cy="1031.90" r="4" fill="none" stroke="#000" stroke-width="1.33"/>
<polygon points="545.70,1137.12 559.24,1130.90 552.45,1137.16 559.20,1137.20 552.45,1137.16 559.16,1143.50 545.70,1137.12" fill="#000" stroke="#000" stroke-width="0.9" stroke-linejoin="miter"/>
<circle cx="541.50" cy="1137.10" r="4" fill="none" stroke="#000" stroke-width="1.33"/>
<polygon points="1037.30,1137.48 1050.60,1130.78 1044.05,1137.27 1050.79,1137.07 1044.05,1137.27 1050.98,1143.37 1037.30,1137.48" fill="#000" stroke="#000" stroke-width="0.9" stroke-linejoin="miter"/>
<circle cx="1033.10" cy="1137.60" r="4" fill="none" stroke="#000" stroke-width="1.33"/>
<polygon points="1007.50,1242.50 1021.14,1236.52 1014.25,1242.66 1021.00,1242.82 1014.25,1242.66 1020.85,1249.11 1007.50,1242.50" fill="#000" stroke="#000" stroke-width="0.9" stroke-linejoin="miter"/>
<circle cx="1003.30" cy="1242.40" r="4" fill="none" stroke="#000" stroke-width="1.33"/>
<polygon points="496.70,1314.70 510.20,1308.40 503.45,1314.70 510.20,1314.70 503.45,1314.70 510.20,1321.00 496.70,1314.70" fill="#000" stroke="#000" stroke-width="0.9" stroke-linejoin="miter"/>
<circle cx="492.50" cy="1314.70" r="4" fill="none" stroke="#000" stroke-width="1.33"/>
<polygon points="492.30,1419.70 505.80,1413.40 499.05,1419.70 505.80,1419.70 499.05,1419.70 505.80,1426.00 492.30,1419.70" fill="#000" stroke="#000" stroke-width="0.9" stroke-linejoin="miter"/>
<circle cx="488.10" cy="1419.70" r="4" fill="none" stroke="#000" stroke-width="1.33"/>
<polygon points="982.09,1404.98 992.92,1394.75 988.49,1402.86 994.90,1400.73 988.49,1402.86 996.88,1406.72 982.09,1404.98" fill="#000" stroke="#000" stroke-width="0.9" stroke-linejoin="miter"/>
<circle cx="978.10" cy="1406.30" r="4" fill="none" stroke="#000" stroke-width="1.33"/>
<polygon points="1353.85,1280.55 1366.22,1272.25 1360.52,1279.52 1367.19,1278.48 1360.52,1279.52 1368.16,1284.70 1353.85,1280.55" fill="#000" stroke="#000" stroke-width="0.9" stroke-linejoin="miter"/>
<circle cx="1349.70" cy="1281.20" r="4" fill="none" stroke="#000" stroke-width="1.33"/>
<polygon points="537.60,1597.28 551.06,1590.90 544.35,1597.24 551.10,1597.20 544.35,1597.24 551.14,1603.50 537.60,1597.28" fill="#000" stroke="#000" stroke-width="0.9" stroke-linejoin="miter"/>
<circle cx="533.40" cy="1597.30" r="4" fill="none" stroke="#000" stroke-width="1.33"/>
<polygon points="536.10,1702.78 549.56,1696.40 542.85,1702.74 549.60,1702.70 542.85,1702.74 549.64,1709.00 536.10,1702.78" fill="#000" stroke="#000" stroke-width="0.9" stroke-linejoin="miter"/>
<circle cx="531.90" cy="1702.80" r="4" fill="none" stroke="#000" stroke-width="1.33"/>
<polygon points="1359.61,1431.92 1371.50,1422.94 1366.21,1430.51 1372.81,1429.11 1366.21,1430.51 1374.13,1435.27 1359.61,1431.92" fill="#000" stroke="#000" stroke-width="0.9" stroke-linejoin="miter"/>
<circle cx="1355.50" cy="1432.80" r="4" fill="none" stroke="#000" stroke-width="1.33"/>
<polygon points="1004.90,1834.50 1018.40,1828.20 1011.65,1834.50 1018.40,1834.50 1011.65,1834.50 1018.40,1840.80 1004.90,1834.50" fill="#000" stroke="#000" stroke-width="0.9" stroke-linejoin="miter"/>
<circle cx="1000.70" cy="1834.50" r="4" fill="none" stroke="#000" stroke-width="1.33"/>
<polygon points="1397.80,1835.02 1411.02,1828.16 1404.54,1834.74 1411.28,1834.45 1404.54,1834.74 1411.55,1840.75 1397.80,1835.02" fill="#000" stroke="#000" stroke-width="0.9" stroke-linejoin="miter"/>
<circle cx="1393.60" cy="1835.20" r="4" fill="none" stroke="#000" stroke-width="1.33"/>
<polygon points="1057.99,927.38 1071.15,920.39 1064.74,927.03 1071.48,926.68 1064.74,927.03 1071.80,932.97 1057.99,927.38" fill="#000" stroke="#000" stroke-width="0.9" stroke-linejoin="miter"/>
<circle cx="1053.80" cy="927.60" r="4" fill="none" stroke="#000" stroke-width="1.33"/>
<polygon points="1023.49,1032.90 1036.51,1025.67 1030.22,1032.43 1036.96,1031.95 1030.22,1032.43 1037.40,1038.24 1023.49,1032.90" fill="#000" stroke="#000" stroke-width="0.9" stroke-linejoin="miter"/>
<circle cx="1019.30" cy="1033.20" r="4" fill="none" stroke="#000" stroke-width="1.33"/>
<polygon points="1037.30,1137.33 1050.68,1130.78 1044.05,1137.20 1050.80,1137.08 1044.05,1137.20 1050.91,1143.38 1037.30,1137.33" fill="#000" stroke="#000" stroke-width="0.9" stroke-linejoin="miter"/>
<circle cx="1033.10" cy="1137.40" r="4" fill="none" stroke="#000" stroke-width="1.33"/>
<polygon points="1007.50,1242.42 1021.18,1236.52 1014.25,1242.62 1020.99,1242.82 1014.25,1242.62 1020.81,1249.12 1007.50,1242.42" fill="#000" stroke="#000" stroke-width="0.9" stroke-linejoin="miter"/>
<circle cx="1003.30" cy="1242.30" r="4" fill="none" stroke="#000" stroke-width="1.33"/>
<polygon points="981.14,1398.91 995.51,1395.00 987.79,1400.06 994.44,1401.21 987.79,1400.06 993.37,1407.42 981.14,1398.91" fill="#000" stroke="#000" stroke-width="0.9" stroke-linejoin="miter"/>
<circle cx="977.00" cy="1398.20" r="4" fill="none" stroke="#000" stroke-width="1.33"/>
<polygon points="1408.50,369.48 1421.80,362.78 1415.25,369.27 1421.99,369.07 1415.25,369.27 1422.18,375.37 1408.50,369.48" fill="#000" stroke="#000" stroke-width="0.9" stroke-linejoin="miter"/>
<circle cx="1404.30" cy="369.60" r="4" fill="none" stroke="#000" stroke-width="1.33"/>
<polygon points="1360.70,776.17 1374.00,769.47 1367.44,775.97 1374.19,775.76 1367.44,775.97 1374.38,782.06 1360.70,776.17" fill="#000" stroke="#000" stroke-width="0.9" stroke-linejoin="miter"/>
<circle cx="1356.50" cy="776.30" r="4" fill="none" stroke="#000" stroke-width="1.33"/>
<polygon points="1354.69,1273.87 1369.57,1273.09 1360.95,1276.40 1367.21,1278.93 1360.95,1276.40 1364.85,1284.77 1354.69,1273.87" fill="#000" stroke="#000" stroke-width="0.9" stroke-linejoin="miter"/>
<circle cx="1350.80" cy="1272.30" r="4" fill="none" stroke="#000" stroke-width="1.33"/>
<polygon points="1359.78,1425.24 1374.58,1423.56 1366.18,1427.38 1372.58,1429.53 1366.18,1427.38 1370.58,1435.50 1359.78,1425.24" fill="#000" stroke="#000" stroke-width="0.9" stroke-linejoin="miter"/>
<circle cx="1355.80" cy="1423.90" r="4" fill="none" stroke="#000" stroke-width="1.33"/>
<polygon points="1397.80,1834.57 1411.26,1828.19 1404.55,1834.53 1411.30,1834.49 1404.55,1834.53 1411.34,1840.79 1397.80,1834.57" fill="#000" stroke="#000" stroke-width="0.9" stroke-linejoin="miter"/>
<circle cx="1393.60" cy="1834.60" r="4" fill="none" stroke="#000" stroke-width="1.33"/>
<polygon points="1397.80,1834.50 1411.30,1828.20 1404.55,1834.50 1411.30,1834.50 1404.55,1834.50 1411.30,1840.80 1397.80,1834.50" fill="#000" stroke="#000" stroke-width="0.9" stroke-linejoin="miter"/>
<circle cx="1393.60" cy="1834.50" r="4" fill="none" stroke="#000" stroke-width="1.33"/>
<text x="16.40" y="1939.80" font-size="15.0" textLength="173.90" lengthAdjust="spacingAndGlyphs" fill="#000">Generated by SchemaSpy</text>
</svg></body></html>
